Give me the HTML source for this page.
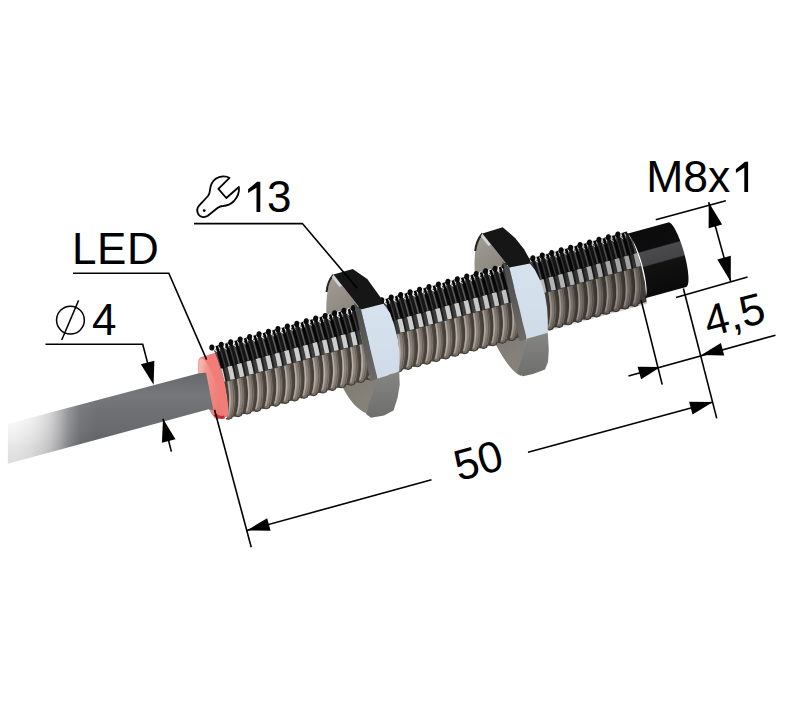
<!DOCTYPE html>
<html><head><meta charset="utf-8"><title>Sensor</title>
<style>html,body{margin:0;padding:0;background:#fff;width:800px;height:710px;overflow:hidden;font-family:"Liberation Sans",sans-serif;}svg{display:block;}</style>
</head><body>
<svg width="800" height="710" viewBox="0 0 800 710" font-family="Liberation Sans, sans-serif"><defs>
<linearGradient id="cableG" gradientUnits="userSpaceOnUse" x1="0" y1="0" x2="205" y2="0">
 <stop offset="0" stop-color="#fcfcfc"/>
 <stop offset="0.08" stop-color="#fafafa"/>
 <stop offset="0.14" stop-color="#f2f2f2"/>
 <stop offset="0.2" stop-color="#e4e4e4"/>
 <stop offset="0.245" stop-color="#d2d2d3"/>
 <stop offset="0.29" stop-color="#b4b4b6"/>
 <stop offset="0.335" stop-color="#8e8f92"/>
 <stop offset="0.39" stop-color="#727377"/>
 <stop offset="0.47" stop-color="#67696d"/>
 <stop offset="1" stop-color="#66686c"/>
</linearGradient>
<linearGradient id="cableV" x1="0" y1="0" x2="0" y2="1">
 <stop offset="0" stop-color="#fff" stop-opacity="0"/>
 <stop offset="0.25" stop-color="#fff" stop-opacity="0.10"/>
 <stop offset="0.45" stop-color="#fff" stop-opacity="0.04"/>
 <stop offset="0.8" stop-color="#000" stop-opacity="0.08"/>
 <stop offset="1" stop-color="#000" stop-opacity="0.12"/>
</linearGradient>
<linearGradient id="faceG" x1="0" y1="0" x2="0.5" y2="1">
 <stop offset="0" stop-color="#f4c4ba"/>
 <stop offset="0.28" stop-color="#f3b0a6"/>
 <stop offset="0.42" stop-color="#f3948c"/>
 <stop offset="1" stop-color="#ee7a74"/>
</linearGradient>
<linearGradient id="frontG" x1="0" y1="0" x2="0" y2="1">
 <stop offset="0" stop-color="#d6e2ee"/>
 <stop offset="1" stop-color="#cfdbe7"/>
</linearGradient>
<linearGradient id="washG" x1="0" y1="0" x2="0.25" y2="1">
 <stop offset="0" stop-color="#a39f97"/>
 <stop offset="0.3" stop-color="#8e8a82"/>
 <stop offset="0.65" stop-color="#7c7871"/>
 <stop offset="1" stop-color="#858179"/>
</linearGradient>
<linearGradient id="boreG" x1="0" y1="0" x2="0" y2="1">
 <stop offset="0" stop-color="#4a4a4a"/>
 <stop offset="0.5" stop-color="#5c5b58"/>
 <stop offset="1" stop-color="#6c6b68"/>
</linearGradient>
<linearGradient id="botG" x1="0" y1="0" x2="0" y2="1">
 <stop offset="0" stop-color="#858583"/>
 <stop offset="1" stop-color="#6e6e6c"/>
</linearGradient>
<linearGradient id="thBase" gradientUnits="userSpaceOnUse" x1="0" y1="-37.3" x2="0" y2="37.3"><stop offset="0" stop-color="#1a1a1a"/><stop offset="0.1" stop-color="#161616"/><stop offset="0.33" stop-color="#141414"/><stop offset="0.34" stop-color="#3a3a3a"/><stop offset="0.5" stop-color="#404040"/><stop offset="0.53" stop-color="#4e4842"/><stop offset="0.8" stop-color="#57514a"/><stop offset="1" stop-color="#4e4842"/></linearGradient>
<linearGradient id="thBox" gradientUnits="userSpaceOnUse" x1="0" y1="-37.3" x2="0" y2="37.3"><stop offset="0" stop-color="#fff" stop-opacity="0"/><stop offset="0.34" stop-color="#fff" stop-opacity="0"/><stop offset="0.35" stop-color="#dedede" stop-opacity="1"/><stop offset="0.51" stop-color="#d4d4d4" stop-opacity="1"/><stop offset="0.51" stop-color="#fff" stop-opacity="0"/><stop offset="1" stop-color="#fff" stop-opacity="0"/></linearGradient>
<linearGradient id="thSheen" gradientUnits="userSpaceOnUse" x1="0" y1="-37.3" x2="0" y2="37.3"><stop offset="0" stop-color="#444" stop-opacity="0"/><stop offset="0.12" stop-color="#444" stop-opacity="0"/><stop offset="0.16" stop-color="#3a3a3a" stop-opacity="1"/><stop offset="0.33" stop-color="#303030" stop-opacity="1"/><stop offset="0.34" stop-color="#444" stop-opacity="0"/><stop offset="1" stop-color="#444" stop-opacity="0"/></linearGradient>
<linearGradient id="thLite" gradientUnits="userSpaceOnUse" x1="0" y1="-37.3" x2="0" y2="37.3"><stop offset="0" stop-color="#aaa" stop-opacity="0"/><stop offset="0.52" stop-color="#aaa" stop-opacity="0"/><stop offset="0.53" stop-color="#b2aaa0" stop-opacity="1"/><stop offset="0.8" stop-color="#bcb4aa" stop-opacity="1"/><stop offset="1" stop-color="#a69e94" stop-opacity="1"/></linearGradient>
<linearGradient id="thTube" gradientUnits="userSpaceOnUse" x1="0" y1="-37.3" x2="0" y2="37.3"><stop offset="0" stop-color="#888" stop-opacity="0"/><stop offset="0.52" stop-color="#888" stop-opacity="0"/><stop offset="0.53" stop-color="#827a71" stop-opacity="1"/><stop offset="0.8" stop-color="#8e867c" stop-opacity="1"/><stop offset="1" stop-color="#7e766d" stop-opacity="1"/></linearGradient>
<linearGradient id="thDark" gradientUnits="userSpaceOnUse" x1="0" y1="-37.3" x2="0" y2="37.3"><stop offset="0" stop-color="#000" stop-opacity="1"/><stop offset="0.34" stop-color="#0a0a0a" stop-opacity="1"/><stop offset="0.35" stop-color="#1c1c1c" stop-opacity="1"/><stop offset="0.51" stop-color="#1c1c1c" stop-opacity="1"/><stop offset="0.53" stop-color="#45403a" stop-opacity="1"/><stop offset="1" stop-color="#48423c" stop-opacity="1"/></linearGradient>
<linearGradient id="thShade" gradientUnits="userSpaceOnUse" x1="0" y1="0" x2="432" y2="0"><stop offset="0" stop-color="#000" stop-opacity="0"/><stop offset="0.55" stop-color="#000" stop-opacity="0"/><stop offset="0.8" stop-color="#000" stop-opacity="0.12"/><stop offset="1" stop-color="#000" stop-opacity="0.22"/></linearGradient><linearGradient id="capG" gradientUnits="userSpaceOnUse" x1="0" y1="-34" x2="0" y2="34"><stop offset="0" stop-color="#0b0b0b"/><stop offset="0.31" stop-color="#0d0d0d"/><stop offset="0.33" stop-color="#4a4a4c"/><stop offset="0.53" stop-color="#444446"/><stop offset="0.55" stop-color="#121212"/><stop offset="1" stop-color="#0a0a0a"/></linearGradient>
<clipPath id="thClip"><polygon points="-5,-42.3 438,-42.3 436,-18.65 437,0 436,18.65 432,39.3 -4.5,39.3 -4.5,37.3 -2.95,36.58 -1.45,34.46 -0.05,31.01 1.22,26.38 2.31,20.72 3.19,14.27 3.84,7.28 4.25,-0 4.41,-7.28 4.32,-14.27 4,-20.72 3.47,-26.38 2.77,-31.01 1.92,-34.46 0.99,-36.58 0,-37.3"/></clipPath></defs><rect width="800" height="710" fill="#fff"/>
<g transform="translate(220,381.8) rotate(-15.54)"><path d="M-12,-28.9 L9,-29.5 L9,35.5 L-12,35.5 A7.5,31.9 0 0 1 -12,-28.9 Z" fill="#f27c78"/><ellipse cx="-12" cy="3.6" rx="7.2" ry="31.4" fill="url(#faceG)"/><path d="M-14,30 Q-10,35.5 -5,35" stroke="#c42a38" stroke-width="3" fill="none"/></g>
<polygon points="7.9,423.7 198.9,373.3 206.05,372.7 213.34,410.12 208.7,409.3 7.9,463.8" fill="url(#cableG)"/><polygon points="7.9,423.7 198.9,373.3 206.05,372.7 213.34,410.12 208.7,409.3 7.9,463.8" fill="url(#cableV)"/>
<path d="M333.5,274.6 C327,282 326,300 326.5,320 C327,345 335,380 352,402 C360,412 370,416 376,415 L378.7,378.7 L361,309.6 Z" fill="url(#washG)"/>
<path d="M482.4,233.5 C476,242 474.5,252 474.5,265 C474.5,290 481,320 496,345 C504,360 512,372 521,376 L526.7,338.7 L509.3,267.5 Z" fill="url(#washG)"/>
<path d="M333.5,274.6 C329.5,279 327.3,284 326.6,292" fill="none" stroke="#222" stroke-width="2"/>
<path d="M482.4,233.5 C478.5,238 476,243 475.2,251" fill="none" stroke="#222" stroke-width="2"/>
<g transform="translate(220,381.8) rotate(-15.54)">
<polygon points="0,-35.8 432,-35.8 436,-18.65 437,0 436,18.65 432,39.3 432,37.3 -4.5,37.3 -2.95,36.58 -1.45,34.46 -0.05,31.01 1.22,26.38 2.31,20.72 3.19,14.27 3.84,7.28 4.25,-0 4.41,-7.28 4.32,-14.27 4,-20.72 3.47,-26.38 2.77,-31.01 1.92,-34.46 0.99,-36.58 0,-37.3" fill="url(#thBase)"/>
<g clip-path="url(#thClip)">
<g fill="#f0f0f0"><ellipse cx="5.9" cy="-32.7" rx="3.1" ry="3.6" transform="rotate(-20 5.9 -32.7)"/><ellipse cx="15.7" cy="-32.7" rx="3.1" ry="3.6" transform="rotate(-20 15.7 -32.7)"/><ellipse cx="25.5" cy="-32.7" rx="3.1" ry="3.6" transform="rotate(-20 25.5 -32.7)"/><ellipse cx="35.3" cy="-32.7" rx="3.1" ry="3.6" transform="rotate(-20 35.3 -32.7)"/><ellipse cx="45.1" cy="-32.7" rx="3.1" ry="3.6" transform="rotate(-20 45.1 -32.7)"/><ellipse cx="54.9" cy="-32.7" rx="3.1" ry="3.6" transform="rotate(-20 54.9 -32.7)"/><ellipse cx="64.7" cy="-32.7" rx="3.1" ry="3.6" transform="rotate(-20 64.7 -32.7)"/><ellipse cx="74.5" cy="-32.7" rx="3.1" ry="3.6" transform="rotate(-20 74.5 -32.7)"/><ellipse cx="84.3" cy="-32.7" rx="3.1" ry="3.6" transform="rotate(-20 84.3 -32.7)"/><ellipse cx="94.1" cy="-32.7" rx="3.1" ry="3.6" transform="rotate(-20 94.1 -32.7)"/><ellipse cx="103.9" cy="-32.7" rx="3.1" ry="3.6" transform="rotate(-20 103.9 -32.7)"/><ellipse cx="113.7" cy="-32.7" rx="3.1" ry="3.6" transform="rotate(-20 113.7 -32.7)"/><ellipse cx="123.5" cy="-32.7" rx="3.1" ry="3.6" transform="rotate(-20 123.5 -32.7)"/><ellipse cx="133.3" cy="-32.7" rx="3.1" ry="3.6" transform="rotate(-20 133.3 -32.7)"/><ellipse cx="143.1" cy="-32.7" rx="3.1" ry="3.6" transform="rotate(-20 143.1 -32.7)"/><ellipse cx="152.9" cy="-32.7" rx="3.1" ry="3.6" transform="rotate(-20 152.9 -32.7)"/><ellipse cx="162.7" cy="-32.7" rx="3.1" ry="3.6" transform="rotate(-20 162.7 -32.7)"/><ellipse cx="172.5" cy="-32.7" rx="3.1" ry="3.6" transform="rotate(-20 172.5 -32.7)"/><ellipse cx="182.3" cy="-32.7" rx="3.1" ry="3.6" transform="rotate(-20 182.3 -32.7)"/><ellipse cx="192.1" cy="-32.7" rx="3.1" ry="3.6" transform="rotate(-20 192.1 -32.7)"/><ellipse cx="201.9" cy="-32.7" rx="3.1" ry="3.6" transform="rotate(-20 201.9 -32.7)"/><ellipse cx="211.7" cy="-32.7" rx="3.1" ry="3.6" transform="rotate(-20 211.7 -32.7)"/><ellipse cx="221.5" cy="-32.7" rx="3.1" ry="3.6" transform="rotate(-20 221.5 -32.7)"/><ellipse cx="231.3" cy="-32.7" rx="3.1" ry="3.6" transform="rotate(-20 231.3 -32.7)"/><ellipse cx="241.1" cy="-32.7" rx="3.1" ry="3.6" transform="rotate(-20 241.1 -32.7)"/><ellipse cx="250.9" cy="-32.7" rx="3.1" ry="3.6" transform="rotate(-20 250.9 -32.7)"/><ellipse cx="260.7" cy="-32.7" rx="3.1" ry="3.6" transform="rotate(-20 260.7 -32.7)"/><ellipse cx="270.5" cy="-32.7" rx="3.1" ry="3.6" transform="rotate(-20 270.5 -32.7)"/><ellipse cx="280.3" cy="-32.7" rx="3.1" ry="3.6" transform="rotate(-20 280.3 -32.7)"/><ellipse cx="290.1" cy="-32.7" rx="3.1" ry="3.6" transform="rotate(-20 290.1 -32.7)"/><ellipse cx="299.9" cy="-32.7" rx="3.1" ry="3.6" transform="rotate(-20 299.9 -32.7)"/><ellipse cx="309.7" cy="-32.7" rx="3.1" ry="3.6" transform="rotate(-20 309.7 -32.7)"/><ellipse cx="319.5" cy="-32.7" rx="3.1" ry="3.6" transform="rotate(-20 319.5 -32.7)"/><ellipse cx="329.3" cy="-32.7" rx="3.1" ry="3.6" transform="rotate(-20 329.3 -32.7)"/><ellipse cx="339.1" cy="-32.7" rx="3.1" ry="3.6" transform="rotate(-20 339.1 -32.7)"/><ellipse cx="348.9" cy="-32.7" rx="3.1" ry="3.6" transform="rotate(-20 348.9 -32.7)"/><ellipse cx="358.7" cy="-32.7" rx="3.1" ry="3.6" transform="rotate(-20 358.7 -32.7)"/><ellipse cx="368.5" cy="-32.7" rx="3.1" ry="3.6" transform="rotate(-20 368.5 -32.7)"/><ellipse cx="378.3" cy="-32.7" rx="3.1" ry="3.6" transform="rotate(-20 378.3 -32.7)"/><ellipse cx="388.1" cy="-32.7" rx="3.1" ry="3.6" transform="rotate(-20 388.1 -32.7)"/><ellipse cx="397.9" cy="-32.7" rx="3.1" ry="3.6" transform="rotate(-20 397.9 -32.7)"/><ellipse cx="407.7" cy="-32.7" rx="3.1" ry="3.6" transform="rotate(-20 407.7 -32.7)"/><ellipse cx="417.5" cy="-32.7" rx="3.1" ry="3.6" transform="rotate(-20 417.5 -32.7)"/><ellipse cx="427.3" cy="-32.7" rx="3.1" ry="3.6" transform="rotate(-20 427.3 -32.7)"/></g>
<path d="M6.45,-35.37 L6.59,-27.83 L6.64,-20.57 L6.57,-13.59 L6.35,-6.9 L5.95,-0.49 L5.34,5.62 L4.49,11.46 L3.37,17 L1.95,22.25 L0.2,27.21 L-1.91,31.88 L-4.41,36.25 L-5.1,37.3 M16.25,-35.37 L16.39,-27.83 L16.44,-20.57 L16.37,-13.59 L16.15,-6.9 L15.75,-0.49 L15.14,5.62 L14.29,11.46 L13.17,17 L11.75,22.25 L10,27.21 L7.89,31.88 L5.39,36.25 L4.7,37.3 M26.05,-35.37 L26.19,-27.83 L26.24,-20.57 L26.17,-13.59 L25.95,-6.9 L25.55,-0.49 L24.94,5.62 L24.09,11.46 L22.97,17 L21.55,22.25 L19.8,27.21 L17.69,31.88 L15.19,36.25 L14.5,37.3 M35.85,-35.37 L35.99,-27.83 L36.04,-20.57 L35.97,-13.59 L35.75,-6.9 L35.35,-0.49 L34.74,5.62 L33.89,11.46 L32.77,17 L31.35,22.25 L29.6,27.21 L27.49,31.88 L24.99,36.25 L24.3,37.3 M45.65,-35.37 L45.79,-27.83 L45.84,-20.57 L45.77,-13.59 L45.55,-6.9 L45.15,-0.49 L44.54,5.62 L43.69,11.46 L42.57,17 L41.15,22.25 L39.4,27.21 L37.29,31.88 L34.79,36.25 L34.1,37.3 M55.45,-35.37 L55.59,-27.83 L55.64,-20.57 L55.57,-13.59 L55.35,-6.9 L54.95,-0.49 L54.34,5.62 L53.49,11.46 L52.37,17 L50.95,22.25 L49.2,27.21 L47.09,31.88 L44.59,36.25 L43.9,37.3 M65.25,-35.37 L65.39,-27.83 L65.44,-20.57 L65.37,-13.59 L65.15,-6.9 L64.75,-0.49 L64.14,5.62 L63.29,11.46 L62.17,17 L60.75,22.25 L59,27.21 L56.89,31.88 L54.39,36.25 L53.7,37.3 M75.05,-35.37 L75.19,-27.83 L75.24,-20.57 L75.17,-13.59 L74.95,-6.9 L74.55,-0.49 L73.94,5.62 L73.09,11.46 L71.97,17 L70.55,22.25 L68.8,27.21 L66.69,31.88 L64.19,36.25 L63.5,37.3 M84.85,-35.37 L84.99,-27.83 L85.04,-20.57 L84.97,-13.59 L84.75,-6.9 L84.35,-0.49 L83.74,5.62 L82.89,11.46 L81.77,17 L80.35,22.25 L78.6,27.21 L76.49,31.88 L73.99,36.25 L73.3,37.3 M94.65,-35.37 L94.79,-27.83 L94.84,-20.57 L94.77,-13.59 L94.55,-6.9 L94.15,-0.49 L93.54,5.62 L92.69,11.46 L91.57,17 L90.15,22.25 L88.4,27.21 L86.29,31.88 L83.79,36.25 L83.1,37.3 M104.45,-35.37 L104.59,-27.83 L104.64,-20.57 L104.57,-13.59 L104.35,-6.9 L103.95,-0.49 L103.34,5.62 L102.49,11.46 L101.37,17 L99.95,22.25 L98.2,27.21 L96.09,31.88 L93.59,36.25 L92.9,37.3 M114.25,-35.37 L114.39,-27.83 L114.44,-20.57 L114.37,-13.59 L114.15,-6.9 L113.75,-0.49 L113.14,5.62 L112.29,11.46 L111.17,17 L109.75,22.25 L108,27.21 L105.89,31.88 L103.39,36.25 L102.7,37.3 M124.05,-35.37 L124.19,-27.83 L124.24,-20.57 L124.17,-13.59 L123.95,-6.9 L123.55,-0.49 L122.94,5.62 L122.09,11.46 L120.97,17 L119.55,22.25 L117.8,27.21 L115.69,31.88 L113.19,36.25 L112.5,37.3 M133.85,-35.37 L133.99,-27.83 L134.04,-20.57 L133.97,-13.59 L133.75,-6.9 L133.35,-0.49 L132.74,5.62 L131.89,11.46 L130.77,17 L129.35,22.25 L127.6,27.21 L125.49,31.88 L122.99,36.25 L122.3,37.3 M143.65,-35.37 L143.79,-27.83 L143.84,-20.57 L143.77,-13.59 L143.55,-6.9 L143.15,-0.49 L142.54,5.62 L141.69,11.46 L140.57,17 L139.15,22.25 L137.4,27.21 L135.29,31.88 L132.79,36.25 L132.1,37.3 M153.45,-35.37 L153.59,-27.83 L153.64,-20.57 L153.57,-13.59 L153.35,-6.9 L152.95,-0.49 L152.34,5.62 L151.49,11.46 L150.37,17 L148.95,22.25 L147.2,27.21 L145.09,31.88 L142.59,36.25 L141.9,37.3 M163.25,-35.37 L163.39,-27.83 L163.44,-20.57 L163.37,-13.59 L163.15,-6.9 L162.75,-0.49 L162.14,5.62 L161.29,11.46 L160.17,17 L158.75,22.25 L157,27.21 L154.89,31.88 L152.39,36.25 L151.7,37.3 M173.05,-35.37 L173.19,-27.83 L173.24,-20.57 L173.17,-13.59 L172.95,-6.9 L172.55,-0.49 L171.94,5.62 L171.09,11.46 L169.97,17 L168.55,22.25 L166.8,27.21 L164.69,31.88 L162.19,36.25 L161.5,37.3 M182.85,-35.37 L182.99,-27.83 L183.04,-20.57 L182.97,-13.59 L182.75,-6.9 L182.35,-0.49 L181.74,5.62 L180.89,11.46 L179.77,17 L178.35,22.25 L176.6,27.21 L174.49,31.88 L171.99,36.25 L171.3,37.3 M192.65,-35.37 L192.79,-27.83 L192.84,-20.57 L192.77,-13.59 L192.55,-6.9 L192.15,-0.49 L191.54,5.62 L190.69,11.46 L189.57,17 L188.15,22.25 L186.4,27.21 L184.29,31.88 L181.79,36.25 L181.1,37.3 M202.45,-35.37 L202.59,-27.83 L202.64,-20.57 L202.57,-13.59 L202.35,-6.9 L201.95,-0.49 L201.34,5.62 L200.49,11.46 L199.37,17 L197.95,22.25 L196.2,27.21 L194.09,31.88 L191.59,36.25 L190.9,37.3 M212.25,-35.37 L212.39,-27.83 L212.44,-20.57 L212.37,-13.59 L212.15,-6.9 L211.75,-0.49 L211.14,5.62 L210.29,11.46 L209.17,17 L207.75,22.25 L206,27.21 L203.89,31.88 L201.39,36.25 L200.7,37.3 M222.05,-35.37 L222.19,-27.83 L222.24,-20.57 L222.17,-13.59 L221.95,-6.9 L221.55,-0.49 L220.94,5.62 L220.09,11.46 L218.97,17 L217.55,22.25 L215.8,27.21 L213.69,31.88 L211.19,36.25 L210.5,37.3 M231.85,-35.37 L231.99,-27.83 L232.04,-20.57 L231.97,-13.59 L231.75,-6.9 L231.35,-0.49 L230.74,5.62 L229.89,11.46 L228.77,17 L227.35,22.25 L225.6,27.21 L223.49,31.88 L220.99,36.25 L220.3,37.3 M241.65,-35.37 L241.79,-27.83 L241.84,-20.57 L241.77,-13.59 L241.55,-6.9 L241.15,-0.49 L240.54,5.62 L239.69,11.46 L238.57,17 L237.15,22.25 L235.4,27.21 L233.29,31.88 L230.79,36.25 L230.1,37.3 M251.45,-35.37 L251.59,-27.83 L251.64,-20.57 L251.57,-13.59 L251.35,-6.9 L250.95,-0.49 L250.34,5.62 L249.49,11.46 L248.37,17 L246.95,22.25 L245.2,27.21 L243.09,31.88 L240.59,36.25 L239.9,37.3 M261.25,-35.37 L261.39,-27.83 L261.44,-20.57 L261.37,-13.59 L261.15,-6.9 L260.75,-0.49 L260.14,5.62 L259.29,11.46 L258.17,17 L256.75,22.25 L255,27.21 L252.89,31.88 L250.39,36.25 L249.7,37.3 M271.05,-35.37 L271.19,-27.83 L271.24,-20.57 L271.17,-13.59 L270.95,-6.9 L270.55,-0.49 L269.94,5.62 L269.09,11.46 L267.97,17 L266.55,22.25 L264.8,27.21 L262.69,31.88 L260.19,36.25 L259.5,37.3 M280.85,-35.37 L280.99,-27.83 L281.04,-20.57 L280.97,-13.59 L280.75,-6.9 L280.35,-0.49 L279.74,5.62 L278.89,11.46 L277.77,17 L276.35,22.25 L274.6,27.21 L272.49,31.88 L269.99,36.25 L269.3,37.3 M290.65,-35.37 L290.79,-27.83 L290.84,-20.57 L290.77,-13.59 L290.55,-6.9 L290.15,-0.49 L289.54,5.62 L288.69,11.46 L287.57,17 L286.15,22.25 L284.4,27.21 L282.29,31.88 L279.79,36.25 L279.1,37.3 M300.45,-35.37 L300.59,-27.83 L300.64,-20.57 L300.57,-13.59 L300.35,-6.9 L299.95,-0.49 L299.34,5.62 L298.49,11.46 L297.37,17 L295.95,22.25 L294.2,27.21 L292.09,31.88 L289.59,36.25 L288.9,37.3 M310.25,-35.37 L310.39,-27.83 L310.44,-20.57 L310.37,-13.59 L310.15,-6.9 L309.75,-0.49 L309.14,5.62 L308.29,11.46 L307.17,17 L305.75,22.25 L304,27.21 L301.89,31.88 L299.39,36.25 L298.7,37.3 M320.05,-35.37 L320.19,-27.83 L320.24,-20.57 L320.17,-13.59 L319.95,-6.9 L319.55,-0.49 L318.94,5.62 L318.09,11.46 L316.97,17 L315.55,22.25 L313.8,27.21 L311.69,31.88 L309.19,36.25 L308.5,37.3 M329.85,-35.37 L329.99,-27.83 L330.04,-20.57 L329.97,-13.59 L329.75,-6.9 L329.35,-0.49 L328.74,5.62 L327.89,11.46 L326.77,17 L325.35,22.25 L323.6,27.21 L321.49,31.88 L318.99,36.25 L318.3,37.3 M339.65,-35.37 L339.79,-27.83 L339.84,-20.57 L339.77,-13.59 L339.55,-6.9 L339.15,-0.49 L338.54,5.62 L337.69,11.46 L336.57,17 L335.15,22.25 L333.4,27.21 L331.29,31.88 L328.79,36.25 L328.1,37.3 M349.45,-35.37 L349.59,-27.83 L349.64,-20.57 L349.57,-13.59 L349.35,-6.9 L348.95,-0.49 L348.34,5.62 L347.49,11.46 L346.37,17 L344.95,22.25 L343.2,27.21 L341.09,31.88 L338.59,36.25 L337.9,37.3 M359.25,-35.37 L359.39,-27.83 L359.44,-20.57 L359.37,-13.59 L359.15,-6.9 L358.75,-0.49 L358.14,5.62 L357.29,11.46 L356.17,17 L354.75,22.25 L353,27.21 L350.89,31.88 L348.39,36.25 L347.7,37.3 M369.05,-35.37 L369.19,-27.83 L369.24,-20.57 L369.17,-13.59 L368.95,-6.9 L368.55,-0.49 L367.94,5.62 L367.09,11.46 L365.97,17 L364.55,22.25 L362.8,27.21 L360.69,31.88 L358.19,36.25 L357.5,37.3 M378.85,-35.37 L378.99,-27.83 L379.04,-20.57 L378.97,-13.59 L378.75,-6.9 L378.35,-0.49 L377.74,5.62 L376.89,11.46 L375.77,17 L374.35,22.25 L372.6,27.21 L370.49,31.88 L367.99,36.25 L367.3,37.3 M388.65,-35.37 L388.79,-27.83 L388.84,-20.57 L388.77,-13.59 L388.55,-6.9 L388.15,-0.49 L387.54,5.62 L386.69,11.46 L385.57,17 L384.15,22.25 L382.4,27.21 L380.29,31.88 L377.79,36.25 L377.1,37.3 M398.45,-35.37 L398.59,-27.83 L398.64,-20.57 L398.57,-13.59 L398.35,-6.9 L397.95,-0.49 L397.34,5.62 L396.49,11.46 L395.37,17 L393.95,22.25 L392.2,27.21 L390.09,31.88 L387.59,36.25 L386.9,37.3 M408.25,-35.37 L408.39,-27.83 L408.44,-20.57 L408.37,-13.59 L408.15,-6.9 L407.75,-0.49 L407.14,5.62 L406.29,11.46 L405.17,17 L403.75,22.25 L402,27.21 L399.89,31.88 L397.39,36.25 L396.7,37.3 M418.05,-35.37 L418.19,-27.83 L418.24,-20.57 L418.17,-13.59 L417.95,-6.9 L417.55,-0.49 L416.94,5.62 L416.09,11.46 L414.97,17 L413.55,22.25 L411.8,27.21 L409.69,31.88 L407.19,36.25 L406.5,37.3 M427.85,-35.37 L427.99,-27.83 L428.04,-20.57 L427.97,-13.59 L427.75,-6.9 L427.35,-0.49 L426.74,5.62 L425.89,11.46 L424.77,17 L423.35,22.25 L421.6,27.21 L419.49,31.88 L416.99,36.25 L416.3,37.3" fill="none" stroke="url(#thDark)" stroke-width="2.6"/>
<path d="M3.74,-30.62 L3.77,-28.76 L3.8,-26.91 L3.82,-25.07 L3.83,-23.26 L3.84,-21.46 L3.84,-19.68 L3.83,-17.92 L3.81,-16.18 L3.79,-14.45 L3.75,-12.74 M13.54,-30.62 L13.57,-28.76 L13.6,-26.91 L13.62,-25.07 L13.63,-23.26 L13.64,-21.46 L13.64,-19.68 L13.63,-17.92 L13.61,-16.18 L13.59,-14.45 L13.55,-12.74 M23.34,-30.62 L23.37,-28.76 L23.4,-26.91 L23.42,-25.07 L23.43,-23.26 L23.44,-21.46 L23.44,-19.68 L23.43,-17.92 L23.41,-16.18 L23.39,-14.45 L23.35,-12.74 M33.14,-30.62 L33.17,-28.76 L33.2,-26.91 L33.22,-25.07 L33.23,-23.26 L33.24,-21.46 L33.24,-19.68 L33.23,-17.92 L33.21,-16.18 L33.19,-14.45 L33.15,-12.74 M42.94,-30.62 L42.97,-28.76 L43,-26.91 L43.02,-25.07 L43.03,-23.26 L43.04,-21.46 L43.04,-19.68 L43.03,-17.92 L43.01,-16.18 L42.99,-14.45 L42.95,-12.74 M52.74,-30.62 L52.77,-28.76 L52.8,-26.91 L52.82,-25.07 L52.83,-23.26 L52.84,-21.46 L52.84,-19.68 L52.83,-17.92 L52.81,-16.18 L52.79,-14.45 L52.75,-12.74 M62.54,-30.62 L62.57,-28.76 L62.6,-26.91 L62.62,-25.07 L62.63,-23.26 L62.64,-21.46 L62.64,-19.68 L62.63,-17.92 L62.61,-16.18 L62.59,-14.45 L62.55,-12.74 M72.34,-30.62 L72.37,-28.76 L72.4,-26.91 L72.42,-25.07 L72.43,-23.26 L72.44,-21.46 L72.44,-19.68 L72.43,-17.92 L72.41,-16.18 L72.39,-14.45 L72.35,-12.74 M82.14,-30.62 L82.17,-28.76 L82.2,-26.91 L82.22,-25.07 L82.23,-23.26 L82.24,-21.46 L82.24,-19.68 L82.23,-17.92 L82.21,-16.18 L82.19,-14.45 L82.15,-12.74 M91.94,-30.62 L91.97,-28.76 L92,-26.91 L92.02,-25.07 L92.03,-23.26 L92.04,-21.46 L92.04,-19.68 L92.03,-17.92 L92.01,-16.18 L91.99,-14.45 L91.95,-12.74 M101.74,-30.62 L101.77,-28.76 L101.8,-26.91 L101.82,-25.07 L101.83,-23.26 L101.84,-21.46 L101.84,-19.68 L101.83,-17.92 L101.81,-16.18 L101.79,-14.45 L101.75,-12.74 M111.54,-30.62 L111.57,-28.76 L111.6,-26.91 L111.62,-25.07 L111.63,-23.26 L111.64,-21.46 L111.64,-19.68 L111.63,-17.92 L111.61,-16.18 L111.59,-14.45 L111.55,-12.74 M121.34,-30.62 L121.37,-28.76 L121.4,-26.91 L121.42,-25.07 L121.43,-23.26 L121.44,-21.46 L121.44,-19.68 L121.43,-17.92 L121.41,-16.18 L121.39,-14.45 L121.35,-12.74 M131.14,-30.62 L131.17,-28.76 L131.2,-26.91 L131.22,-25.07 L131.23,-23.26 L131.24,-21.46 L131.24,-19.68 L131.23,-17.92 L131.21,-16.18 L131.19,-14.45 L131.15,-12.74 M140.94,-30.62 L140.97,-28.76 L141,-26.91 L141.02,-25.07 L141.03,-23.26 L141.04,-21.46 L141.04,-19.68 L141.03,-17.92 L141.01,-16.18 L140.99,-14.45 L140.95,-12.74 M150.74,-30.62 L150.77,-28.76 L150.8,-26.91 L150.82,-25.07 L150.83,-23.26 L150.84,-21.46 L150.84,-19.68 L150.83,-17.92 L150.81,-16.18 L150.79,-14.45 L150.75,-12.74 M160.54,-30.62 L160.57,-28.76 L160.6,-26.91 L160.62,-25.07 L160.63,-23.26 L160.64,-21.46 L160.64,-19.68 L160.63,-17.92 L160.61,-16.18 L160.59,-14.45 L160.55,-12.74 M170.34,-30.62 L170.37,-28.76 L170.4,-26.91 L170.42,-25.07 L170.43,-23.26 L170.44,-21.46 L170.44,-19.68 L170.43,-17.92 L170.41,-16.18 L170.39,-14.45 L170.35,-12.74 M180.14,-30.62 L180.17,-28.76 L180.2,-26.91 L180.22,-25.07 L180.23,-23.26 L180.24,-21.46 L180.24,-19.68 L180.23,-17.92 L180.21,-16.18 L180.19,-14.45 L180.15,-12.74 M189.94,-30.62 L189.97,-28.76 L190,-26.91 L190.02,-25.07 L190.03,-23.26 L190.04,-21.46 L190.04,-19.68 L190.03,-17.92 L190.01,-16.18 L189.99,-14.45 L189.95,-12.74 M199.74,-30.62 L199.77,-28.76 L199.8,-26.91 L199.82,-25.07 L199.83,-23.26 L199.84,-21.46 L199.84,-19.68 L199.83,-17.92 L199.81,-16.18 L199.79,-14.45 L199.75,-12.74 M209.54,-30.62 L209.57,-28.76 L209.6,-26.91 L209.62,-25.07 L209.63,-23.26 L209.64,-21.46 L209.64,-19.68 L209.63,-17.92 L209.61,-16.18 L209.59,-14.45 L209.55,-12.74 M219.34,-30.62 L219.37,-28.76 L219.4,-26.91 L219.42,-25.07 L219.43,-23.26 L219.44,-21.46 L219.44,-19.68 L219.43,-17.92 L219.41,-16.18 L219.39,-14.45 L219.35,-12.74 M229.14,-30.62 L229.17,-28.76 L229.2,-26.91 L229.22,-25.07 L229.23,-23.26 L229.24,-21.46 L229.24,-19.68 L229.23,-17.92 L229.21,-16.18 L229.19,-14.45 L229.15,-12.74 M238.94,-30.62 L238.97,-28.76 L239,-26.91 L239.02,-25.07 L239.03,-23.26 L239.04,-21.46 L239.04,-19.68 L239.03,-17.92 L239.01,-16.18 L238.99,-14.45 L238.95,-12.74 M248.74,-30.62 L248.77,-28.76 L248.8,-26.91 L248.82,-25.07 L248.83,-23.26 L248.84,-21.46 L248.84,-19.68 L248.83,-17.92 L248.81,-16.18 L248.79,-14.45 L248.75,-12.74 M258.54,-30.62 L258.57,-28.76 L258.6,-26.91 L258.62,-25.07 L258.63,-23.26 L258.64,-21.46 L258.64,-19.68 L258.63,-17.92 L258.61,-16.18 L258.59,-14.45 L258.55,-12.74 M268.34,-30.62 L268.37,-28.76 L268.4,-26.91 L268.42,-25.07 L268.43,-23.26 L268.44,-21.46 L268.44,-19.68 L268.43,-17.92 L268.41,-16.18 L268.39,-14.45 L268.35,-12.74 M278.14,-30.62 L278.17,-28.76 L278.2,-26.91 L278.22,-25.07 L278.23,-23.26 L278.24,-21.46 L278.24,-19.68 L278.23,-17.92 L278.21,-16.18 L278.19,-14.45 L278.15,-12.74 M287.94,-30.62 L287.97,-28.76 L288,-26.91 L288.02,-25.07 L288.03,-23.26 L288.04,-21.46 L288.04,-19.68 L288.03,-17.92 L288.01,-16.18 L287.99,-14.45 L287.95,-12.74 M297.74,-30.62 L297.77,-28.76 L297.8,-26.91 L297.82,-25.07 L297.83,-23.26 L297.84,-21.46 L297.84,-19.68 L297.83,-17.92 L297.81,-16.18 L297.79,-14.45 L297.75,-12.74 M307.54,-30.62 L307.57,-28.76 L307.6,-26.91 L307.62,-25.07 L307.63,-23.26 L307.64,-21.46 L307.64,-19.68 L307.63,-17.92 L307.61,-16.18 L307.59,-14.45 L307.55,-12.74 M317.34,-30.62 L317.37,-28.76 L317.4,-26.91 L317.42,-25.07 L317.43,-23.26 L317.44,-21.46 L317.44,-19.68 L317.43,-17.92 L317.41,-16.18 L317.39,-14.45 L317.35,-12.74 M327.14,-30.62 L327.17,-28.76 L327.2,-26.91 L327.22,-25.07 L327.23,-23.26 L327.24,-21.46 L327.24,-19.68 L327.23,-17.92 L327.21,-16.18 L327.19,-14.45 L327.15,-12.74 M336.94,-30.62 L336.97,-28.76 L337,-26.91 L337.02,-25.07 L337.03,-23.26 L337.04,-21.46 L337.04,-19.68 L337.03,-17.92 L337.01,-16.18 L336.99,-14.45 L336.95,-12.74 M346.74,-30.62 L346.77,-28.76 L346.8,-26.91 L346.82,-25.07 L346.83,-23.26 L346.84,-21.46 L346.84,-19.68 L346.83,-17.92 L346.81,-16.18 L346.79,-14.45 L346.75,-12.74 M356.54,-30.62 L356.57,-28.76 L356.6,-26.91 L356.62,-25.07 L356.63,-23.26 L356.64,-21.46 L356.64,-19.68 L356.63,-17.92 L356.61,-16.18 L356.59,-14.45 L356.55,-12.74 M366.34,-30.62 L366.37,-28.76 L366.4,-26.91 L366.42,-25.07 L366.43,-23.26 L366.44,-21.46 L366.44,-19.68 L366.43,-17.92 L366.41,-16.18 L366.39,-14.45 L366.35,-12.74 M376.14,-30.62 L376.17,-28.76 L376.2,-26.91 L376.22,-25.07 L376.23,-23.26 L376.24,-21.46 L376.24,-19.68 L376.23,-17.92 L376.21,-16.18 L376.19,-14.45 L376.15,-12.74 M385.94,-30.62 L385.97,-28.76 L386,-26.91 L386.02,-25.07 L386.03,-23.26 L386.04,-21.46 L386.04,-19.68 L386.03,-17.92 L386.01,-16.18 L385.99,-14.45 L385.95,-12.74 M395.74,-30.62 L395.77,-28.76 L395.8,-26.91 L395.82,-25.07 L395.83,-23.26 L395.84,-21.46 L395.84,-19.68 L395.83,-17.92 L395.81,-16.18 L395.79,-14.45 L395.75,-12.74 M405.54,-30.62 L405.57,-28.76 L405.6,-26.91 L405.62,-25.07 L405.63,-23.26 L405.64,-21.46 L405.64,-19.68 L405.63,-17.92 L405.61,-16.18 L405.59,-14.45 L405.55,-12.74 M415.34,-30.62 L415.37,-28.76 L415.4,-26.91 L415.42,-25.07 L415.43,-23.26 L415.44,-21.46 L415.44,-19.68 L415.43,-17.92 L415.41,-16.18 L415.39,-14.45 L415.35,-12.74 M425.14,-30.62 L425.17,-28.76 L425.2,-26.91 L425.22,-25.07 L425.23,-23.26 L425.24,-21.46 L425.24,-19.68 L425.23,-17.92 L425.21,-16.18 L425.19,-14.45 L425.15,-12.74 M434.94,-30.62 L434.97,-28.76 L435,-26.91 L435.02,-25.07 L435.03,-23.26 L435.04,-21.46 L435.04,-19.68 L435.03,-17.92 L435.01,-16.18 L434.99,-14.45 L434.95,-12.74" fill="none" stroke="#5a5a5a" stroke-width="1.6"/>
<path d="M-0.88,-32.04 L-0.85,-30.16 L-0.82,-28.29 L-0.79,-26.45 L-0.78,-24.62 L-0.77,-22.81 L-0.76,-21.02 L-0.76,-19.24 L-0.77,-17.48 L-0.79,-15.74 L-0.82,-14.02 L-0.85,-12.74 M8.92,-32.04 L8.95,-30.16 L8.98,-28.29 L9.01,-26.45 L9.02,-24.62 L9.03,-22.81 L9.04,-21.02 L9.04,-19.24 L9.03,-17.48 L9.01,-15.74 L8.98,-14.02 L8.95,-12.74 M18.72,-32.04 L18.75,-30.16 L18.78,-28.29 L18.81,-26.45 L18.82,-24.62 L18.83,-22.81 L18.84,-21.02 L18.84,-19.24 L18.83,-17.48 L18.81,-15.74 L18.78,-14.02 L18.75,-12.74 M28.52,-32.04 L28.55,-30.16 L28.58,-28.29 L28.61,-26.45 L28.62,-24.62 L28.63,-22.81 L28.64,-21.02 L28.64,-19.24 L28.63,-17.48 L28.61,-15.74 L28.58,-14.02 L28.55,-12.74 M38.32,-32.04 L38.35,-30.16 L38.38,-28.29 L38.41,-26.45 L38.42,-24.62 L38.43,-22.81 L38.44,-21.02 L38.44,-19.24 L38.43,-17.48 L38.41,-15.74 L38.38,-14.02 L38.35,-12.74 M48.12,-32.04 L48.15,-30.16 L48.18,-28.29 L48.21,-26.45 L48.22,-24.62 L48.23,-22.81 L48.24,-21.02 L48.24,-19.24 L48.23,-17.48 L48.21,-15.74 L48.18,-14.02 L48.15,-12.74 M57.92,-32.04 L57.95,-30.16 L57.98,-28.29 L58.01,-26.45 L58.02,-24.62 L58.03,-22.81 L58.04,-21.02 L58.04,-19.24 L58.03,-17.48 L58.01,-15.74 L57.98,-14.02 L57.95,-12.74 M67.72,-32.04 L67.75,-30.16 L67.78,-28.29 L67.81,-26.45 L67.82,-24.62 L67.83,-22.81 L67.84,-21.02 L67.84,-19.24 L67.83,-17.48 L67.81,-15.74 L67.78,-14.02 L67.75,-12.74 M77.52,-32.04 L77.55,-30.16 L77.58,-28.29 L77.61,-26.45 L77.62,-24.62 L77.63,-22.81 L77.64,-21.02 L77.64,-19.24 L77.63,-17.48 L77.61,-15.74 L77.58,-14.02 L77.55,-12.74 M87.32,-32.04 L87.35,-30.16 L87.38,-28.29 L87.41,-26.45 L87.42,-24.62 L87.43,-22.81 L87.44,-21.02 L87.44,-19.24 L87.43,-17.48 L87.41,-15.74 L87.38,-14.02 L87.35,-12.74 M97.12,-32.04 L97.15,-30.16 L97.18,-28.29 L97.21,-26.45 L97.22,-24.62 L97.23,-22.81 L97.24,-21.02 L97.24,-19.24 L97.23,-17.48 L97.21,-15.74 L97.18,-14.02 L97.15,-12.74 M106.92,-32.04 L106.95,-30.16 L106.98,-28.29 L107.01,-26.45 L107.02,-24.62 L107.03,-22.81 L107.04,-21.02 L107.04,-19.24 L107.03,-17.48 L107.01,-15.74 L106.98,-14.02 L106.95,-12.74 M116.72,-32.04 L116.75,-30.16 L116.78,-28.29 L116.81,-26.45 L116.82,-24.62 L116.83,-22.81 L116.84,-21.02 L116.84,-19.24 L116.83,-17.48 L116.81,-15.74 L116.78,-14.02 L116.75,-12.74 M126.52,-32.04 L126.55,-30.16 L126.58,-28.29 L126.61,-26.45 L126.62,-24.62 L126.63,-22.81 L126.64,-21.02 L126.64,-19.24 L126.63,-17.48 L126.61,-15.74 L126.58,-14.02 L126.55,-12.74 M136.32,-32.04 L136.35,-30.16 L136.38,-28.29 L136.41,-26.45 L136.42,-24.62 L136.43,-22.81 L136.44,-21.02 L136.44,-19.24 L136.43,-17.48 L136.41,-15.74 L136.38,-14.02 L136.35,-12.74 M146.12,-32.04 L146.15,-30.16 L146.18,-28.29 L146.21,-26.45 L146.22,-24.62 L146.23,-22.81 L146.24,-21.02 L146.24,-19.24 L146.23,-17.48 L146.21,-15.74 L146.18,-14.02 L146.15,-12.74 M155.92,-32.04 L155.95,-30.16 L155.98,-28.29 L156.01,-26.45 L156.02,-24.62 L156.03,-22.81 L156.04,-21.02 L156.04,-19.24 L156.03,-17.48 L156.01,-15.74 L155.98,-14.02 L155.95,-12.74 M165.72,-32.04 L165.75,-30.16 L165.78,-28.29 L165.81,-26.45 L165.82,-24.62 L165.83,-22.81 L165.84,-21.02 L165.84,-19.24 L165.83,-17.48 L165.81,-15.74 L165.78,-14.02 L165.75,-12.74 M175.52,-32.04 L175.55,-30.16 L175.58,-28.29 L175.61,-26.45 L175.62,-24.62 L175.63,-22.81 L175.64,-21.02 L175.64,-19.24 L175.63,-17.48 L175.61,-15.74 L175.58,-14.02 L175.55,-12.74 M185.32,-32.04 L185.35,-30.16 L185.38,-28.29 L185.41,-26.45 L185.42,-24.62 L185.43,-22.81 L185.44,-21.02 L185.44,-19.24 L185.43,-17.48 L185.41,-15.74 L185.38,-14.02 L185.35,-12.74 M195.12,-32.04 L195.15,-30.16 L195.18,-28.29 L195.21,-26.45 L195.22,-24.62 L195.23,-22.81 L195.24,-21.02 L195.24,-19.24 L195.23,-17.48 L195.21,-15.74 L195.18,-14.02 L195.15,-12.74 M204.92,-32.04 L204.95,-30.16 L204.98,-28.29 L205.01,-26.45 L205.02,-24.62 L205.03,-22.81 L205.04,-21.02 L205.04,-19.24 L205.03,-17.48 L205.01,-15.74 L204.98,-14.02 L204.95,-12.74 M214.72,-32.04 L214.75,-30.16 L214.78,-28.29 L214.81,-26.45 L214.82,-24.62 L214.83,-22.81 L214.84,-21.02 L214.84,-19.24 L214.83,-17.48 L214.81,-15.74 L214.78,-14.02 L214.75,-12.74 M224.52,-32.04 L224.55,-30.16 L224.58,-28.29 L224.61,-26.45 L224.62,-24.62 L224.63,-22.81 L224.64,-21.02 L224.64,-19.24 L224.63,-17.48 L224.61,-15.74 L224.58,-14.02 L224.55,-12.74 M234.32,-32.04 L234.35,-30.16 L234.38,-28.29 L234.41,-26.45 L234.42,-24.62 L234.43,-22.81 L234.44,-21.02 L234.44,-19.24 L234.43,-17.48 L234.41,-15.74 L234.38,-14.02 L234.35,-12.74 M244.12,-32.04 L244.15,-30.16 L244.18,-28.29 L244.21,-26.45 L244.22,-24.62 L244.23,-22.81 L244.24,-21.02 L244.24,-19.24 L244.23,-17.48 L244.21,-15.74 L244.18,-14.02 L244.15,-12.74 M253.92,-32.04 L253.95,-30.16 L253.98,-28.29 L254.01,-26.45 L254.02,-24.62 L254.03,-22.81 L254.04,-21.02 L254.04,-19.24 L254.03,-17.48 L254.01,-15.74 L253.98,-14.02 L253.95,-12.74 M263.72,-32.04 L263.75,-30.16 L263.78,-28.29 L263.81,-26.45 L263.82,-24.62 L263.83,-22.81 L263.84,-21.02 L263.84,-19.24 L263.83,-17.48 L263.81,-15.74 L263.78,-14.02 L263.75,-12.74 M273.52,-32.04 L273.55,-30.16 L273.58,-28.29 L273.61,-26.45 L273.62,-24.62 L273.63,-22.81 L273.64,-21.02 L273.64,-19.24 L273.63,-17.48 L273.61,-15.74 L273.58,-14.02 L273.55,-12.74 M283.32,-32.04 L283.35,-30.16 L283.38,-28.29 L283.41,-26.45 L283.42,-24.62 L283.43,-22.81 L283.44,-21.02 L283.44,-19.24 L283.43,-17.48 L283.41,-15.74 L283.38,-14.02 L283.35,-12.74 M293.12,-32.04 L293.15,-30.16 L293.18,-28.29 L293.21,-26.45 L293.22,-24.62 L293.23,-22.81 L293.24,-21.02 L293.24,-19.24 L293.23,-17.48 L293.21,-15.74 L293.18,-14.02 L293.15,-12.74 M302.92,-32.04 L302.95,-30.16 L302.98,-28.29 L303.01,-26.45 L303.02,-24.62 L303.03,-22.81 L303.04,-21.02 L303.04,-19.24 L303.03,-17.48 L303.01,-15.74 L302.98,-14.02 L302.95,-12.74 M312.72,-32.04 L312.75,-30.16 L312.78,-28.29 L312.81,-26.45 L312.82,-24.62 L312.83,-22.81 L312.84,-21.02 L312.84,-19.24 L312.83,-17.48 L312.81,-15.74 L312.78,-14.02 L312.75,-12.74 M322.52,-32.04 L322.55,-30.16 L322.58,-28.29 L322.61,-26.45 L322.62,-24.62 L322.63,-22.81 L322.64,-21.02 L322.64,-19.24 L322.63,-17.48 L322.61,-15.74 L322.58,-14.02 L322.55,-12.74 M332.32,-32.04 L332.35,-30.16 L332.38,-28.29 L332.41,-26.45 L332.42,-24.62 L332.43,-22.81 L332.44,-21.02 L332.44,-19.24 L332.43,-17.48 L332.41,-15.74 L332.38,-14.02 L332.35,-12.74 M342.12,-32.04 L342.15,-30.16 L342.18,-28.29 L342.21,-26.45 L342.22,-24.62 L342.23,-22.81 L342.24,-21.02 L342.24,-19.24 L342.23,-17.48 L342.21,-15.74 L342.18,-14.02 L342.15,-12.74 M351.92,-32.04 L351.95,-30.16 L351.98,-28.29 L352.01,-26.45 L352.02,-24.62 L352.03,-22.81 L352.04,-21.02 L352.04,-19.24 L352.03,-17.48 L352.01,-15.74 L351.98,-14.02 L351.95,-12.74 M361.72,-32.04 L361.75,-30.16 L361.78,-28.29 L361.81,-26.45 L361.82,-24.62 L361.83,-22.81 L361.84,-21.02 L361.84,-19.24 L361.83,-17.48 L361.81,-15.74 L361.78,-14.02 L361.75,-12.74 M371.52,-32.04 L371.55,-30.16 L371.58,-28.29 L371.61,-26.45 L371.62,-24.62 L371.63,-22.81 L371.64,-21.02 L371.64,-19.24 L371.63,-17.48 L371.61,-15.74 L371.58,-14.02 L371.55,-12.74 M381.32,-32.04 L381.35,-30.16 L381.38,-28.29 L381.41,-26.45 L381.42,-24.62 L381.43,-22.81 L381.44,-21.02 L381.44,-19.24 L381.43,-17.48 L381.41,-15.74 L381.38,-14.02 L381.35,-12.74 M391.12,-32.04 L391.15,-30.16 L391.18,-28.29 L391.21,-26.45 L391.22,-24.62 L391.23,-22.81 L391.24,-21.02 L391.24,-19.24 L391.23,-17.48 L391.21,-15.74 L391.18,-14.02 L391.15,-12.74 M400.92,-32.04 L400.95,-30.16 L400.98,-28.29 L401.01,-26.45 L401.02,-24.62 L401.03,-22.81 L401.04,-21.02 L401.04,-19.24 L401.03,-17.48 L401.01,-15.74 L400.98,-14.02 L400.95,-12.74 M410.72,-32.04 L410.75,-30.16 L410.78,-28.29 L410.81,-26.45 L410.82,-24.62 L410.83,-22.81 L410.84,-21.02 L410.84,-19.24 L410.83,-17.48 L410.81,-15.74 L410.78,-14.02 L410.75,-12.74 M420.52,-32.04 L420.55,-30.16 L420.58,-28.29 L420.61,-26.45 L420.62,-24.62 L420.63,-22.81 L420.64,-21.02 L420.64,-19.24 L420.63,-17.48 L420.61,-15.74 L420.58,-14.02 L420.55,-12.74 M430.32,-32.04 L430.35,-30.16 L430.38,-28.29 L430.41,-26.45 L430.42,-24.62 L430.43,-22.81 L430.44,-21.02 L430.44,-19.24 L430.43,-17.48 L430.41,-15.74 L430.38,-14.02 L430.35,-12.74" fill="none" stroke="#3a3a3a" stroke-width="1.4"/>
<path d="M3.74,-12.32 L3.72,-11.47 L3.69,-10.63 L3.67,-9.79 L3.64,-8.96 L3.6,-8.13 L3.57,-7.31 L3.53,-6.49 L3.49,-5.68 L3.44,-4.87 L3.4,-4.06 L3.35,-3.26 L3.29,-2.47 L3.24,-1.67 L3.18,-0.89 L3.12,-0.1 L3.05,0.67 L3.02,1.06 M13.54,-12.32 L13.52,-11.47 L13.49,-10.63 L13.47,-9.79 L13.44,-8.96 L13.4,-8.13 L13.37,-7.31 L13.33,-6.49 L13.29,-5.68 L13.24,-4.87 L13.2,-4.06 L13.15,-3.26 L13.09,-2.47 L13.04,-1.67 L12.98,-0.89 L12.92,-0.1 L12.85,0.67 L12.82,1.06 M23.34,-12.32 L23.32,-11.47 L23.29,-10.63 L23.27,-9.79 L23.24,-8.96 L23.2,-8.13 L23.17,-7.31 L23.13,-6.49 L23.09,-5.68 L23.04,-4.87 L23,-4.06 L22.95,-3.26 L22.89,-2.47 L22.84,-1.67 L22.78,-0.89 L22.72,-0.1 L22.65,0.67 L22.62,1.06 M33.14,-12.32 L33.12,-11.47 L33.09,-10.63 L33.07,-9.79 L33.04,-8.96 L33,-8.13 L32.97,-7.31 L32.93,-6.49 L32.89,-5.68 L32.84,-4.87 L32.8,-4.06 L32.75,-3.26 L32.69,-2.47 L32.64,-1.67 L32.58,-0.89 L32.52,-0.1 L32.45,0.67 L32.42,1.06 M42.94,-12.32 L42.92,-11.47 L42.89,-10.63 L42.87,-9.79 L42.84,-8.96 L42.8,-8.13 L42.77,-7.31 L42.73,-6.49 L42.69,-5.68 L42.64,-4.87 L42.6,-4.06 L42.55,-3.26 L42.49,-2.47 L42.44,-1.67 L42.38,-0.89 L42.32,-0.1 L42.25,0.67 L42.22,1.06 M52.74,-12.32 L52.72,-11.47 L52.69,-10.63 L52.67,-9.79 L52.64,-8.96 L52.6,-8.13 L52.57,-7.31 L52.53,-6.49 L52.49,-5.68 L52.44,-4.87 L52.4,-4.06 L52.35,-3.26 L52.29,-2.47 L52.24,-1.67 L52.18,-0.89 L52.12,-0.1 L52.05,0.67 L52.02,1.06 M62.54,-12.32 L62.52,-11.47 L62.49,-10.63 L62.47,-9.79 L62.44,-8.96 L62.4,-8.13 L62.37,-7.31 L62.33,-6.49 L62.29,-5.68 L62.24,-4.87 L62.2,-4.06 L62.15,-3.26 L62.09,-2.47 L62.04,-1.67 L61.98,-0.89 L61.92,-0.1 L61.85,0.67 L61.82,1.06 M72.34,-12.32 L72.32,-11.47 L72.29,-10.63 L72.27,-9.79 L72.24,-8.96 L72.2,-8.13 L72.17,-7.31 L72.13,-6.49 L72.09,-5.68 L72.04,-4.87 L72,-4.06 L71.95,-3.26 L71.89,-2.47 L71.84,-1.67 L71.78,-0.89 L71.72,-0.1 L71.65,0.67 L71.62,1.06 M82.14,-12.32 L82.12,-11.47 L82.09,-10.63 L82.07,-9.79 L82.04,-8.96 L82,-8.13 L81.97,-7.31 L81.93,-6.49 L81.89,-5.68 L81.84,-4.87 L81.8,-4.06 L81.75,-3.26 L81.69,-2.47 L81.64,-1.67 L81.58,-0.89 L81.52,-0.1 L81.45,0.67 L81.42,1.06 M91.94,-12.32 L91.92,-11.47 L91.89,-10.63 L91.87,-9.79 L91.84,-8.96 L91.8,-8.13 L91.77,-7.31 L91.73,-6.49 L91.69,-5.68 L91.64,-4.87 L91.6,-4.06 L91.55,-3.26 L91.49,-2.47 L91.44,-1.67 L91.38,-0.89 L91.32,-0.1 L91.25,0.67 L91.22,1.06 M101.74,-12.32 L101.72,-11.47 L101.69,-10.63 L101.67,-9.79 L101.64,-8.96 L101.6,-8.13 L101.57,-7.31 L101.53,-6.49 L101.49,-5.68 L101.44,-4.87 L101.4,-4.06 L101.35,-3.26 L101.29,-2.47 L101.24,-1.67 L101.18,-0.89 L101.12,-0.1 L101.05,0.67 L101.02,1.06 M111.54,-12.32 L111.52,-11.47 L111.49,-10.63 L111.47,-9.79 L111.44,-8.96 L111.4,-8.13 L111.37,-7.31 L111.33,-6.49 L111.29,-5.68 L111.24,-4.87 L111.2,-4.06 L111.15,-3.26 L111.09,-2.47 L111.04,-1.67 L110.98,-0.89 L110.92,-0.1 L110.85,0.67 L110.82,1.06 M121.34,-12.32 L121.32,-11.47 L121.29,-10.63 L121.27,-9.79 L121.24,-8.96 L121.2,-8.13 L121.17,-7.31 L121.13,-6.49 L121.09,-5.68 L121.04,-4.87 L121,-4.06 L120.95,-3.26 L120.89,-2.47 L120.84,-1.67 L120.78,-0.89 L120.72,-0.1 L120.65,0.67 L120.62,1.06 M131.14,-12.32 L131.12,-11.47 L131.09,-10.63 L131.07,-9.79 L131.04,-8.96 L131,-8.13 L130.97,-7.31 L130.93,-6.49 L130.89,-5.68 L130.84,-4.87 L130.8,-4.06 L130.75,-3.26 L130.69,-2.47 L130.64,-1.67 L130.58,-0.89 L130.52,-0.1 L130.45,0.67 L130.42,1.06 M140.94,-12.32 L140.92,-11.47 L140.89,-10.63 L140.87,-9.79 L140.84,-8.96 L140.8,-8.13 L140.77,-7.31 L140.73,-6.49 L140.69,-5.68 L140.64,-4.87 L140.6,-4.06 L140.55,-3.26 L140.49,-2.47 L140.44,-1.67 L140.38,-0.89 L140.32,-0.1 L140.25,0.67 L140.22,1.06 M150.74,-12.32 L150.72,-11.47 L150.69,-10.63 L150.67,-9.79 L150.64,-8.96 L150.6,-8.13 L150.57,-7.31 L150.53,-6.49 L150.49,-5.68 L150.44,-4.87 L150.4,-4.06 L150.35,-3.26 L150.29,-2.47 L150.24,-1.67 L150.18,-0.89 L150.12,-0.1 L150.05,0.67 L150.02,1.06 M160.54,-12.32 L160.52,-11.47 L160.49,-10.63 L160.47,-9.79 L160.44,-8.96 L160.4,-8.13 L160.37,-7.31 L160.33,-6.49 L160.29,-5.68 L160.24,-4.87 L160.2,-4.06 L160.15,-3.26 L160.09,-2.47 L160.04,-1.67 L159.98,-0.89 L159.92,-0.1 L159.85,0.67 L159.82,1.06 M170.34,-12.32 L170.32,-11.47 L170.29,-10.63 L170.27,-9.79 L170.24,-8.96 L170.2,-8.13 L170.17,-7.31 L170.13,-6.49 L170.09,-5.68 L170.04,-4.87 L170,-4.06 L169.95,-3.26 L169.89,-2.47 L169.84,-1.67 L169.78,-0.89 L169.72,-0.1 L169.65,0.67 L169.62,1.06 M180.14,-12.32 L180.12,-11.47 L180.09,-10.63 L180.07,-9.79 L180.04,-8.96 L180,-8.13 L179.97,-7.31 L179.93,-6.49 L179.89,-5.68 L179.84,-4.87 L179.8,-4.06 L179.75,-3.26 L179.69,-2.47 L179.64,-1.67 L179.58,-0.89 L179.52,-0.1 L179.45,0.67 L179.42,1.06 M189.94,-12.32 L189.92,-11.47 L189.89,-10.63 L189.87,-9.79 L189.84,-8.96 L189.8,-8.13 L189.77,-7.31 L189.73,-6.49 L189.69,-5.68 L189.64,-4.87 L189.6,-4.06 L189.55,-3.26 L189.49,-2.47 L189.44,-1.67 L189.38,-0.89 L189.32,-0.1 L189.25,0.67 L189.22,1.06 M199.74,-12.32 L199.72,-11.47 L199.69,-10.63 L199.67,-9.79 L199.64,-8.96 L199.6,-8.13 L199.57,-7.31 L199.53,-6.49 L199.49,-5.68 L199.44,-4.87 L199.4,-4.06 L199.35,-3.26 L199.29,-2.47 L199.24,-1.67 L199.18,-0.89 L199.12,-0.1 L199.05,0.67 L199.02,1.06 M209.54,-12.32 L209.52,-11.47 L209.49,-10.63 L209.47,-9.79 L209.44,-8.96 L209.4,-8.13 L209.37,-7.31 L209.33,-6.49 L209.29,-5.68 L209.24,-4.87 L209.2,-4.06 L209.15,-3.26 L209.09,-2.47 L209.04,-1.67 L208.98,-0.89 L208.92,-0.1 L208.85,0.67 L208.82,1.06 M219.34,-12.32 L219.32,-11.47 L219.29,-10.63 L219.27,-9.79 L219.24,-8.96 L219.2,-8.13 L219.17,-7.31 L219.13,-6.49 L219.09,-5.68 L219.04,-4.87 L219,-4.06 L218.95,-3.26 L218.89,-2.47 L218.84,-1.67 L218.78,-0.89 L218.72,-0.1 L218.65,0.67 L218.62,1.06 M229.14,-12.32 L229.12,-11.47 L229.09,-10.63 L229.07,-9.79 L229.04,-8.96 L229,-8.13 L228.97,-7.31 L228.93,-6.49 L228.89,-5.68 L228.84,-4.87 L228.8,-4.06 L228.75,-3.26 L228.69,-2.47 L228.64,-1.67 L228.58,-0.89 L228.52,-0.1 L228.45,0.67 L228.42,1.06 M238.94,-12.32 L238.92,-11.47 L238.89,-10.63 L238.87,-9.79 L238.84,-8.96 L238.8,-8.13 L238.77,-7.31 L238.73,-6.49 L238.69,-5.68 L238.64,-4.87 L238.6,-4.06 L238.55,-3.26 L238.49,-2.47 L238.44,-1.67 L238.38,-0.89 L238.32,-0.1 L238.25,0.67 L238.22,1.06 M248.74,-12.32 L248.72,-11.47 L248.69,-10.63 L248.67,-9.79 L248.64,-8.96 L248.6,-8.13 L248.57,-7.31 L248.53,-6.49 L248.49,-5.68 L248.44,-4.87 L248.4,-4.06 L248.35,-3.26 L248.29,-2.47 L248.24,-1.67 L248.18,-0.89 L248.12,-0.1 L248.05,0.67 L248.02,1.06 M258.54,-12.32 L258.52,-11.47 L258.49,-10.63 L258.47,-9.79 L258.44,-8.96 L258.4,-8.13 L258.37,-7.31 L258.33,-6.49 L258.29,-5.68 L258.24,-4.87 L258.2,-4.06 L258.15,-3.26 L258.09,-2.47 L258.04,-1.67 L257.98,-0.89 L257.92,-0.1 L257.85,0.67 L257.82,1.06 M268.34,-12.32 L268.32,-11.47 L268.29,-10.63 L268.27,-9.79 L268.24,-8.96 L268.2,-8.13 L268.17,-7.31 L268.13,-6.49 L268.09,-5.68 L268.04,-4.87 L268,-4.06 L267.95,-3.26 L267.89,-2.47 L267.84,-1.67 L267.78,-0.89 L267.72,-0.1 L267.65,0.67 L267.62,1.06 M278.14,-12.32 L278.12,-11.47 L278.09,-10.63 L278.07,-9.79 L278.04,-8.96 L278,-8.13 L277.97,-7.31 L277.93,-6.49 L277.89,-5.68 L277.84,-4.87 L277.8,-4.06 L277.75,-3.26 L277.69,-2.47 L277.64,-1.67 L277.58,-0.89 L277.52,-0.1 L277.45,0.67 L277.42,1.06 M287.94,-12.32 L287.92,-11.47 L287.89,-10.63 L287.87,-9.79 L287.84,-8.96 L287.8,-8.13 L287.77,-7.31 L287.73,-6.49 L287.69,-5.68 L287.64,-4.87 L287.6,-4.06 L287.55,-3.26 L287.49,-2.47 L287.44,-1.67 L287.38,-0.89 L287.32,-0.1 L287.25,0.67 L287.22,1.06 M297.74,-12.32 L297.72,-11.47 L297.69,-10.63 L297.67,-9.79 L297.64,-8.96 L297.6,-8.13 L297.57,-7.31 L297.53,-6.49 L297.49,-5.68 L297.44,-4.87 L297.4,-4.06 L297.35,-3.26 L297.29,-2.47 L297.24,-1.67 L297.18,-0.89 L297.12,-0.1 L297.05,0.67 L297.02,1.06 M307.54,-12.32 L307.52,-11.47 L307.49,-10.63 L307.47,-9.79 L307.44,-8.96 L307.4,-8.13 L307.37,-7.31 L307.33,-6.49 L307.29,-5.68 L307.24,-4.87 L307.2,-4.06 L307.15,-3.26 L307.09,-2.47 L307.04,-1.67 L306.98,-0.89 L306.92,-0.1 L306.85,0.67 L306.82,1.06 M317.34,-12.32 L317.32,-11.47 L317.29,-10.63 L317.27,-9.79 L317.24,-8.96 L317.2,-8.13 L317.17,-7.31 L317.13,-6.49 L317.09,-5.68 L317.04,-4.87 L317,-4.06 L316.95,-3.26 L316.89,-2.47 L316.84,-1.67 L316.78,-0.89 L316.72,-0.1 L316.65,0.67 L316.62,1.06 M327.14,-12.32 L327.12,-11.47 L327.09,-10.63 L327.07,-9.79 L327.04,-8.96 L327,-8.13 L326.97,-7.31 L326.93,-6.49 L326.89,-5.68 L326.84,-4.87 L326.8,-4.06 L326.75,-3.26 L326.69,-2.47 L326.64,-1.67 L326.58,-0.89 L326.52,-0.1 L326.45,0.67 L326.42,1.06 M336.94,-12.32 L336.92,-11.47 L336.89,-10.63 L336.87,-9.79 L336.84,-8.96 L336.8,-8.13 L336.77,-7.31 L336.73,-6.49 L336.69,-5.68 L336.64,-4.87 L336.6,-4.06 L336.55,-3.26 L336.49,-2.47 L336.44,-1.67 L336.38,-0.89 L336.32,-0.1 L336.25,0.67 L336.22,1.06 M346.74,-12.32 L346.72,-11.47 L346.69,-10.63 L346.67,-9.79 L346.64,-8.96 L346.6,-8.13 L346.57,-7.31 L346.53,-6.49 L346.49,-5.68 L346.44,-4.87 L346.4,-4.06 L346.35,-3.26 L346.29,-2.47 L346.24,-1.67 L346.18,-0.89 L346.12,-0.1 L346.05,0.67 L346.02,1.06 M356.54,-12.32 L356.52,-11.47 L356.49,-10.63 L356.47,-9.79 L356.44,-8.96 L356.4,-8.13 L356.37,-7.31 L356.33,-6.49 L356.29,-5.68 L356.24,-4.87 L356.2,-4.06 L356.15,-3.26 L356.09,-2.47 L356.04,-1.67 L355.98,-0.89 L355.92,-0.1 L355.85,0.67 L355.82,1.06 M366.34,-12.32 L366.32,-11.47 L366.29,-10.63 L366.27,-9.79 L366.24,-8.96 L366.2,-8.13 L366.17,-7.31 L366.13,-6.49 L366.09,-5.68 L366.04,-4.87 L366,-4.06 L365.95,-3.26 L365.89,-2.47 L365.84,-1.67 L365.78,-0.89 L365.72,-0.1 L365.65,0.67 L365.62,1.06 M376.14,-12.32 L376.12,-11.47 L376.09,-10.63 L376.07,-9.79 L376.04,-8.96 L376,-8.13 L375.97,-7.31 L375.93,-6.49 L375.89,-5.68 L375.84,-4.87 L375.8,-4.06 L375.75,-3.26 L375.69,-2.47 L375.64,-1.67 L375.58,-0.89 L375.52,-0.1 L375.45,0.67 L375.42,1.06 M385.94,-12.32 L385.92,-11.47 L385.89,-10.63 L385.87,-9.79 L385.84,-8.96 L385.8,-8.13 L385.77,-7.31 L385.73,-6.49 L385.69,-5.68 L385.64,-4.87 L385.6,-4.06 L385.55,-3.26 L385.49,-2.47 L385.44,-1.67 L385.38,-0.89 L385.32,-0.1 L385.25,0.67 L385.22,1.06 M395.74,-12.32 L395.72,-11.47 L395.69,-10.63 L395.67,-9.79 L395.64,-8.96 L395.6,-8.13 L395.57,-7.31 L395.53,-6.49 L395.49,-5.68 L395.44,-4.87 L395.4,-4.06 L395.35,-3.26 L395.29,-2.47 L395.24,-1.67 L395.18,-0.89 L395.12,-0.1 L395.05,0.67 L395.02,1.06 M405.54,-12.32 L405.52,-11.47 L405.49,-10.63 L405.47,-9.79 L405.44,-8.96 L405.4,-8.13 L405.37,-7.31 L405.33,-6.49 L405.29,-5.68 L405.24,-4.87 L405.2,-4.06 L405.15,-3.26 L405.09,-2.47 L405.04,-1.67 L404.98,-0.89 L404.92,-0.1 L404.85,0.67 L404.82,1.06 M415.34,-12.32 L415.32,-11.47 L415.29,-10.63 L415.27,-9.79 L415.24,-8.96 L415.2,-8.13 L415.17,-7.31 L415.13,-6.49 L415.09,-5.68 L415.04,-4.87 L415,-4.06 L414.95,-3.26 L414.89,-2.47 L414.84,-1.67 L414.78,-0.89 L414.72,-0.1 L414.65,0.67 L414.62,1.06 M425.14,-12.32 L425.12,-11.47 L425.09,-10.63 L425.07,-9.79 L425.04,-8.96 L425,-8.13 L424.97,-7.31 L424.93,-6.49 L424.89,-5.68 L424.84,-4.87 L424.8,-4.06 L424.75,-3.26 L424.69,-2.47 L424.64,-1.67 L424.58,-0.89 L424.52,-0.1 L424.45,0.67 L424.42,1.06 M434.94,-12.32 L434.92,-11.47 L434.89,-10.63 L434.87,-9.79 L434.84,-8.96 L434.8,-8.13 L434.77,-7.31 L434.73,-6.49 L434.69,-5.68 L434.64,-4.87 L434.6,-4.06 L434.55,-3.26 L434.49,-2.47 L434.44,-1.67 L434.38,-0.89 L434.32,-0.1 L434.25,0.67 L434.22,1.06" fill="none" stroke="#cdcdcd" stroke-width="4.6"/>
<path d="M0.22,1.06 L-0.13,4.5 L-0.55,7.85 L-1.05,11.1 L-1.64,14.26 L-2.31,17.34 L-3.08,20.32 L-3.96,23.2 L-4.93,26 L-6.02,28.7 L-7.23,31.31 L-8.56,33.83 L-10.01,36.25 L-10.35,36.78 M10.02,1.06 L9.67,4.5 L9.25,7.85 L8.75,11.1 L8.16,14.26 L7.49,17.34 L6.72,20.32 L5.84,23.2 L4.87,26 L3.78,28.7 L2.57,31.31 L1.24,33.83 L-0.21,36.25 L-0.55,36.78 M19.82,1.06 L19.47,4.5 L19.05,7.85 L18.55,11.1 L17.96,14.26 L17.29,17.34 L16.52,20.32 L15.64,23.2 L14.67,26 L13.58,28.7 L12.37,31.31 L11.04,33.83 L9.59,36.25 L9.25,36.78 M29.62,1.06 L29.27,4.5 L28.85,7.85 L28.35,11.1 L27.76,14.26 L27.09,17.34 L26.32,20.32 L25.44,23.2 L24.47,26 L23.38,28.7 L22.17,31.31 L20.84,33.83 L19.39,36.25 L19.05,36.78 M39.42,1.06 L39.07,4.5 L38.65,7.85 L38.15,11.1 L37.56,14.26 L36.89,17.34 L36.12,20.32 L35.24,23.2 L34.27,26 L33.18,28.7 L31.97,31.31 L30.64,33.83 L29.19,36.25 L28.85,36.78 M49.22,1.06 L48.87,4.5 L48.45,7.85 L47.95,11.1 L47.36,14.26 L46.69,17.34 L45.92,20.32 L45.04,23.2 L44.07,26 L42.98,28.7 L41.77,31.31 L40.44,33.83 L38.99,36.25 L38.65,36.78 M59.02,1.06 L58.67,4.5 L58.25,7.85 L57.75,11.1 L57.16,14.26 L56.49,17.34 L55.72,20.32 L54.84,23.2 L53.87,26 L52.78,28.7 L51.57,31.31 L50.24,33.83 L48.79,36.25 L48.45,36.78 M68.82,1.06 L68.47,4.5 L68.05,7.85 L67.55,11.1 L66.96,14.26 L66.29,17.34 L65.52,20.32 L64.64,23.2 L63.67,26 L62.58,28.7 L61.37,31.31 L60.04,33.83 L58.59,36.25 L58.25,36.78 M78.62,1.06 L78.27,4.5 L77.85,7.85 L77.35,11.1 L76.76,14.26 L76.09,17.34 L75.32,20.32 L74.44,23.2 L73.47,26 L72.38,28.7 L71.17,31.31 L69.84,33.83 L68.39,36.25 L68.05,36.78 M88.42,1.06 L88.07,4.5 L87.65,7.85 L87.15,11.1 L86.56,14.26 L85.89,17.34 L85.12,20.32 L84.24,23.2 L83.27,26 L82.18,28.7 L80.97,31.31 L79.64,33.83 L78.19,36.25 L77.85,36.78 M98.22,1.06 L97.87,4.5 L97.45,7.85 L96.95,11.1 L96.36,14.26 L95.69,17.34 L94.92,20.32 L94.04,23.2 L93.07,26 L91.98,28.7 L90.77,31.31 L89.44,33.83 L87.99,36.25 L87.65,36.78 M108.02,1.06 L107.67,4.5 L107.25,7.85 L106.75,11.1 L106.16,14.26 L105.49,17.34 L104.72,20.32 L103.84,23.2 L102.87,26 L101.78,28.7 L100.57,31.31 L99.24,33.83 L97.79,36.25 L97.45,36.78 M117.82,1.06 L117.47,4.5 L117.05,7.85 L116.55,11.1 L115.96,14.26 L115.29,17.34 L114.52,20.32 L113.64,23.2 L112.67,26 L111.58,28.7 L110.37,31.31 L109.04,33.83 L107.59,36.25 L107.25,36.78 M127.62,1.06 L127.27,4.5 L126.85,7.85 L126.35,11.1 L125.76,14.26 L125.09,17.34 L124.32,20.32 L123.44,23.2 L122.47,26 L121.38,28.7 L120.17,31.31 L118.84,33.83 L117.39,36.25 L117.05,36.78 M137.42,1.06 L137.07,4.5 L136.65,7.85 L136.15,11.1 L135.56,14.26 L134.89,17.34 L134.12,20.32 L133.24,23.2 L132.27,26 L131.18,28.7 L129.97,31.31 L128.64,33.83 L127.19,36.25 L126.85,36.78 M147.22,1.06 L146.87,4.5 L146.45,7.85 L145.95,11.1 L145.36,14.26 L144.69,17.34 L143.92,20.32 L143.04,23.2 L142.07,26 L140.98,28.7 L139.77,31.31 L138.44,33.83 L136.99,36.25 L136.65,36.78 M157.02,1.06 L156.67,4.5 L156.25,7.85 L155.75,11.1 L155.16,14.26 L154.49,17.34 L153.72,20.32 L152.84,23.2 L151.87,26 L150.78,28.7 L149.57,31.31 L148.24,33.83 L146.79,36.25 L146.45,36.78 M166.82,1.06 L166.47,4.5 L166.05,7.85 L165.55,11.1 L164.96,14.26 L164.29,17.34 L163.52,20.32 L162.64,23.2 L161.67,26 L160.58,28.7 L159.37,31.31 L158.04,33.83 L156.59,36.25 L156.25,36.78 M176.62,1.06 L176.27,4.5 L175.85,7.85 L175.35,11.1 L174.76,14.26 L174.09,17.34 L173.32,20.32 L172.44,23.2 L171.47,26 L170.38,28.7 L169.17,31.31 L167.84,33.83 L166.39,36.25 L166.05,36.78 M186.42,1.06 L186.07,4.5 L185.65,7.85 L185.15,11.1 L184.56,14.26 L183.89,17.34 L183.12,20.32 L182.24,23.2 L181.27,26 L180.18,28.7 L178.97,31.31 L177.64,33.83 L176.19,36.25 L175.85,36.78 M196.22,1.06 L195.87,4.5 L195.45,7.85 L194.95,11.1 L194.36,14.26 L193.69,17.34 L192.92,20.32 L192.04,23.2 L191.07,26 L189.98,28.7 L188.77,31.31 L187.44,33.83 L185.99,36.25 L185.65,36.78 M206.02,1.06 L205.67,4.5 L205.25,7.85 L204.75,11.1 L204.16,14.26 L203.49,17.34 L202.72,20.32 L201.84,23.2 L200.87,26 L199.78,28.7 L198.57,31.31 L197.24,33.83 L195.79,36.25 L195.45,36.78 M215.82,1.06 L215.47,4.5 L215.05,7.85 L214.55,11.1 L213.96,14.26 L213.29,17.34 L212.52,20.32 L211.64,23.2 L210.67,26 L209.58,28.7 L208.37,31.31 L207.04,33.83 L205.59,36.25 L205.25,36.78 M225.62,1.06 L225.27,4.5 L224.85,7.85 L224.35,11.1 L223.76,14.26 L223.09,17.34 L222.32,20.32 L221.44,23.2 L220.47,26 L219.38,28.7 L218.17,31.31 L216.84,33.83 L215.39,36.25 L215.05,36.78 M235.42,1.06 L235.07,4.5 L234.65,7.85 L234.15,11.1 L233.56,14.26 L232.89,17.34 L232.12,20.32 L231.24,23.2 L230.27,26 L229.18,28.7 L227.97,31.31 L226.64,33.83 L225.19,36.25 L224.85,36.78 M245.22,1.06 L244.87,4.5 L244.45,7.85 L243.95,11.1 L243.36,14.26 L242.69,17.34 L241.92,20.32 L241.04,23.2 L240.07,26 L238.98,28.7 L237.77,31.31 L236.44,33.83 L234.99,36.25 L234.65,36.78 M255.02,1.06 L254.67,4.5 L254.25,7.85 L253.75,11.1 L253.16,14.26 L252.49,17.34 L251.72,20.32 L250.84,23.2 L249.87,26 L248.78,28.7 L247.57,31.31 L246.24,33.83 L244.79,36.25 L244.45,36.78 M264.82,1.06 L264.47,4.5 L264.05,7.85 L263.55,11.1 L262.96,14.26 L262.29,17.34 L261.52,20.32 L260.64,23.2 L259.67,26 L258.58,28.7 L257.37,31.31 L256.04,33.83 L254.59,36.25 L254.25,36.78 M274.62,1.06 L274.27,4.5 L273.85,7.85 L273.35,11.1 L272.76,14.26 L272.09,17.34 L271.32,20.32 L270.44,23.2 L269.47,26 L268.38,28.7 L267.17,31.31 L265.84,33.83 L264.39,36.25 L264.05,36.78 M284.42,1.06 L284.07,4.5 L283.65,7.85 L283.15,11.1 L282.56,14.26 L281.89,17.34 L281.12,20.32 L280.24,23.2 L279.27,26 L278.18,28.7 L276.97,31.31 L275.64,33.83 L274.19,36.25 L273.85,36.78 M294.22,1.06 L293.87,4.5 L293.45,7.85 L292.95,11.1 L292.36,14.26 L291.69,17.34 L290.92,20.32 L290.04,23.2 L289.07,26 L287.98,28.7 L286.77,31.31 L285.44,33.83 L283.99,36.25 L283.65,36.78 M304.02,1.06 L303.67,4.5 L303.25,7.85 L302.75,11.1 L302.16,14.26 L301.49,17.34 L300.72,20.32 L299.84,23.2 L298.87,26 L297.78,28.7 L296.57,31.31 L295.24,33.83 L293.79,36.25 L293.45,36.78 M313.82,1.06 L313.47,4.5 L313.05,7.85 L312.55,11.1 L311.96,14.26 L311.29,17.34 L310.52,20.32 L309.64,23.2 L308.67,26 L307.58,28.7 L306.37,31.31 L305.04,33.83 L303.59,36.25 L303.25,36.78 M323.62,1.06 L323.27,4.5 L322.85,7.85 L322.35,11.1 L321.76,14.26 L321.09,17.34 L320.32,20.32 L319.44,23.2 L318.47,26 L317.38,28.7 L316.17,31.31 L314.84,33.83 L313.39,36.25 L313.05,36.78 M333.42,1.06 L333.07,4.5 L332.65,7.85 L332.15,11.1 L331.56,14.26 L330.89,17.34 L330.12,20.32 L329.24,23.2 L328.27,26 L327.18,28.7 L325.97,31.31 L324.64,33.83 L323.19,36.25 L322.85,36.78 M343.22,1.06 L342.87,4.5 L342.45,7.85 L341.95,11.1 L341.36,14.26 L340.69,17.34 L339.92,20.32 L339.04,23.2 L338.07,26 L336.98,28.7 L335.77,31.31 L334.44,33.83 L332.99,36.25 L332.65,36.78 M353.02,1.06 L352.67,4.5 L352.25,7.85 L351.75,11.1 L351.16,14.26 L350.49,17.34 L349.72,20.32 L348.84,23.2 L347.87,26 L346.78,28.7 L345.57,31.31 L344.24,33.83 L342.79,36.25 L342.45,36.78 M362.82,1.06 L362.47,4.5 L362.05,7.85 L361.55,11.1 L360.96,14.26 L360.29,17.34 L359.52,20.32 L358.64,23.2 L357.67,26 L356.58,28.7 L355.37,31.31 L354.04,33.83 L352.59,36.25 L352.25,36.78 M372.62,1.06 L372.27,4.5 L371.85,7.85 L371.35,11.1 L370.76,14.26 L370.09,17.34 L369.32,20.32 L368.44,23.2 L367.47,26 L366.38,28.7 L365.17,31.31 L363.84,33.83 L362.39,36.25 L362.05,36.78 M382.42,1.06 L382.07,4.5 L381.65,7.85 L381.15,11.1 L380.56,14.26 L379.89,17.34 L379.12,20.32 L378.24,23.2 L377.27,26 L376.18,28.7 L374.97,31.31 L373.64,33.83 L372.19,36.25 L371.85,36.78 M392.22,1.06 L391.87,4.5 L391.45,7.85 L390.95,11.1 L390.36,14.26 L389.69,17.34 L388.92,20.32 L388.04,23.2 L387.07,26 L385.98,28.7 L384.77,31.31 L383.44,33.83 L381.99,36.25 L381.65,36.78 M402.02,1.06 L401.67,4.5 L401.25,7.85 L400.75,11.1 L400.16,14.26 L399.49,17.34 L398.72,20.32 L397.84,23.2 L396.87,26 L395.78,28.7 L394.57,31.31 L393.24,33.83 L391.79,36.25 L391.45,36.78 M411.82,1.06 L411.47,4.5 L411.05,7.85 L410.55,11.1 L409.96,14.26 L409.29,17.34 L408.52,20.32 L407.64,23.2 L406.67,26 L405.58,28.7 L404.37,31.31 L403.04,33.83 L401.59,36.25 L401.25,36.78 M421.62,1.06 L421.27,4.5 L420.85,7.85 L420.35,11.1 L419.76,14.26 L419.09,17.34 L418.32,20.32 L417.44,23.2 L416.47,26 L415.38,28.7 L414.17,31.31 L412.84,33.83 L411.39,36.25 L411.05,36.78 M431.42,1.06 L431.07,4.5 L430.65,7.85 L430.15,11.1 L429.56,14.26 L428.89,17.34 L428.12,20.32 L427.24,23.2 L426.27,26 L425.18,28.7 L423.97,31.31 L422.64,33.83 L421.19,36.25 L420.85,36.78" fill="none" stroke="url(#thTube)" stroke-width="5.6"/>
<path d="M2.01,2.22 L1.59,6 L1.08,9.67 L0.47,13.22 L-0.26,16.66 L-1.09,19.99 L-2.06,23.2 L-3.15,26.3 L-4.38,29.29 L-5.76,32.16 L-7.29,34.92 L-8.11,36.25 M11.81,2.22 L11.39,6 L10.88,9.67 L10.27,13.22 L9.54,16.66 L8.71,19.99 L7.74,23.2 L6.65,26.3 L5.42,29.29 L4.04,32.16 L2.51,34.92 L1.69,36.25 M21.61,2.22 L21.19,6 L20.68,9.67 L20.07,13.22 L19.34,16.66 L18.51,19.99 L17.54,23.2 L16.45,26.3 L15.22,29.29 L13.84,32.16 L12.31,34.92 L11.49,36.25 M31.41,2.22 L30.99,6 L30.48,9.67 L29.87,13.22 L29.14,16.66 L28.31,19.99 L27.34,23.2 L26.25,26.3 L25.02,29.29 L23.64,32.16 L22.11,34.92 L21.29,36.25 M41.21,2.22 L40.79,6 L40.28,9.67 L39.67,13.22 L38.94,16.66 L38.11,19.99 L37.14,23.2 L36.05,26.3 L34.82,29.29 L33.44,32.16 L31.91,34.92 L31.09,36.25 M51.01,2.22 L50.59,6 L50.08,9.67 L49.47,13.22 L48.74,16.66 L47.91,19.99 L46.94,23.2 L45.85,26.3 L44.62,29.29 L43.24,32.16 L41.71,34.92 L40.89,36.25 M60.81,2.22 L60.39,6 L59.88,9.67 L59.27,13.22 L58.54,16.66 L57.71,19.99 L56.74,23.2 L55.65,26.3 L54.42,29.29 L53.04,32.16 L51.51,34.92 L50.69,36.25 M70.61,2.22 L70.19,6 L69.68,9.67 L69.07,13.22 L68.34,16.66 L67.51,19.99 L66.54,23.2 L65.45,26.3 L64.22,29.29 L62.84,32.16 L61.31,34.92 L60.49,36.25 M80.41,2.22 L79.99,6 L79.48,9.67 L78.87,13.22 L78.14,16.66 L77.31,19.99 L76.34,23.2 L75.25,26.3 L74.02,29.29 L72.64,32.16 L71.11,34.92 L70.29,36.25 M90.21,2.22 L89.79,6 L89.28,9.67 L88.67,13.22 L87.94,16.66 L87.11,19.99 L86.14,23.2 L85.05,26.3 L83.82,29.29 L82.44,32.16 L80.91,34.92 L80.09,36.25 M100.01,2.22 L99.59,6 L99.08,9.67 L98.47,13.22 L97.74,16.66 L96.91,19.99 L95.94,23.2 L94.85,26.3 L93.62,29.29 L92.24,32.16 L90.71,34.92 L89.89,36.25 M109.81,2.22 L109.39,6 L108.88,9.67 L108.27,13.22 L107.54,16.66 L106.71,19.99 L105.74,23.2 L104.65,26.3 L103.42,29.29 L102.04,32.16 L100.51,34.92 L99.69,36.25 M119.61,2.22 L119.19,6 L118.68,9.67 L118.07,13.22 L117.34,16.66 L116.51,19.99 L115.54,23.2 L114.45,26.3 L113.22,29.29 L111.84,32.16 L110.31,34.92 L109.49,36.25 M129.41,2.22 L128.99,6 L128.48,9.67 L127.87,13.22 L127.14,16.66 L126.31,19.99 L125.34,23.2 L124.25,26.3 L123.02,29.29 L121.64,32.16 L120.11,34.92 L119.29,36.25 M139.21,2.22 L138.79,6 L138.28,9.67 L137.67,13.22 L136.94,16.66 L136.11,19.99 L135.14,23.2 L134.05,26.3 L132.82,29.29 L131.44,32.16 L129.91,34.92 L129.09,36.25 M149.01,2.22 L148.59,6 L148.08,9.67 L147.47,13.22 L146.74,16.66 L145.91,19.99 L144.94,23.2 L143.85,26.3 L142.62,29.29 L141.24,32.16 L139.71,34.92 L138.89,36.25 M158.81,2.22 L158.39,6 L157.88,9.67 L157.27,13.22 L156.54,16.66 L155.71,19.99 L154.74,23.2 L153.65,26.3 L152.42,29.29 L151.04,32.16 L149.51,34.92 L148.69,36.25 M168.61,2.22 L168.19,6 L167.68,9.67 L167.07,13.22 L166.34,16.66 L165.51,19.99 L164.54,23.2 L163.45,26.3 L162.22,29.29 L160.84,32.16 L159.31,34.92 L158.49,36.25 M178.41,2.22 L177.99,6 L177.48,9.67 L176.87,13.22 L176.14,16.66 L175.31,19.99 L174.34,23.2 L173.25,26.3 L172.02,29.29 L170.64,32.16 L169.11,34.92 L168.29,36.25 M188.21,2.22 L187.79,6 L187.28,9.67 L186.67,13.22 L185.94,16.66 L185.11,19.99 L184.14,23.2 L183.05,26.3 L181.82,29.29 L180.44,32.16 L178.91,34.92 L178.09,36.25 M198.01,2.22 L197.59,6 L197.08,9.67 L196.47,13.22 L195.74,16.66 L194.91,19.99 L193.94,23.2 L192.85,26.3 L191.62,29.29 L190.24,32.16 L188.71,34.92 L187.89,36.25 M207.81,2.22 L207.39,6 L206.88,9.67 L206.27,13.22 L205.54,16.66 L204.71,19.99 L203.74,23.2 L202.65,26.3 L201.42,29.29 L200.04,32.16 L198.51,34.92 L197.69,36.25 M217.61,2.22 L217.19,6 L216.68,9.67 L216.07,13.22 L215.34,16.66 L214.51,19.99 L213.54,23.2 L212.45,26.3 L211.22,29.29 L209.84,32.16 L208.31,34.92 L207.49,36.25 M227.41,2.22 L226.99,6 L226.48,9.67 L225.87,13.22 L225.14,16.66 L224.31,19.99 L223.34,23.2 L222.25,26.3 L221.02,29.29 L219.64,32.16 L218.11,34.92 L217.29,36.25 M237.21,2.22 L236.79,6 L236.28,9.67 L235.67,13.22 L234.94,16.66 L234.11,19.99 L233.14,23.2 L232.05,26.3 L230.82,29.29 L229.44,32.16 L227.91,34.92 L227.09,36.25 M247.01,2.22 L246.59,6 L246.08,9.67 L245.47,13.22 L244.74,16.66 L243.91,19.99 L242.94,23.2 L241.85,26.3 L240.62,29.29 L239.24,32.16 L237.71,34.92 L236.89,36.25 M256.81,2.22 L256.39,6 L255.88,9.67 L255.27,13.22 L254.54,16.66 L253.71,19.99 L252.74,23.2 L251.65,26.3 L250.42,29.29 L249.04,32.16 L247.51,34.92 L246.69,36.25 M266.61,2.22 L266.19,6 L265.68,9.67 L265.07,13.22 L264.34,16.66 L263.51,19.99 L262.54,23.2 L261.45,26.3 L260.22,29.29 L258.84,32.16 L257.31,34.92 L256.49,36.25 M276.41,2.22 L275.99,6 L275.48,9.67 L274.87,13.22 L274.14,16.66 L273.31,19.99 L272.34,23.2 L271.25,26.3 L270.02,29.29 L268.64,32.16 L267.11,34.92 L266.29,36.25 M286.21,2.22 L285.79,6 L285.28,9.67 L284.67,13.22 L283.94,16.66 L283.11,19.99 L282.14,23.2 L281.05,26.3 L279.82,29.29 L278.44,32.16 L276.91,34.92 L276.09,36.25 M296.01,2.22 L295.59,6 L295.08,9.67 L294.47,13.22 L293.74,16.66 L292.91,19.99 L291.94,23.2 L290.85,26.3 L289.62,29.29 L288.24,32.16 L286.71,34.92 L285.89,36.25 M305.81,2.22 L305.39,6 L304.88,9.67 L304.27,13.22 L303.54,16.66 L302.71,19.99 L301.74,23.2 L300.65,26.3 L299.42,29.29 L298.04,32.16 L296.51,34.92 L295.69,36.25 M315.61,2.22 L315.19,6 L314.68,9.67 L314.07,13.22 L313.34,16.66 L312.51,19.99 L311.54,23.2 L310.45,26.3 L309.22,29.29 L307.84,32.16 L306.31,34.92 L305.49,36.25 M325.41,2.22 L324.99,6 L324.48,9.67 L323.87,13.22 L323.14,16.66 L322.31,19.99 L321.34,23.2 L320.25,26.3 L319.02,29.29 L317.64,32.16 L316.11,34.92 L315.29,36.25 M335.21,2.22 L334.79,6 L334.28,9.67 L333.67,13.22 L332.94,16.66 L332.11,19.99 L331.14,23.2 L330.05,26.3 L328.82,29.29 L327.44,32.16 L325.91,34.92 L325.09,36.25 M345.01,2.22 L344.59,6 L344.08,9.67 L343.47,13.22 L342.74,16.66 L341.91,19.99 L340.94,23.2 L339.85,26.3 L338.62,29.29 L337.24,32.16 L335.71,34.92 L334.89,36.25 M354.81,2.22 L354.39,6 L353.88,9.67 L353.27,13.22 L352.54,16.66 L351.71,19.99 L350.74,23.2 L349.65,26.3 L348.42,29.29 L347.04,32.16 L345.51,34.92 L344.69,36.25 M364.61,2.22 L364.19,6 L363.68,9.67 L363.07,13.22 L362.34,16.66 L361.51,19.99 L360.54,23.2 L359.45,26.3 L358.22,29.29 L356.84,32.16 L355.31,34.92 L354.49,36.25 M374.41,2.22 L373.99,6 L373.48,9.67 L372.87,13.22 L372.14,16.66 L371.31,19.99 L370.34,23.2 L369.25,26.3 L368.02,29.29 L366.64,32.16 L365.11,34.92 L364.29,36.25 M384.21,2.22 L383.79,6 L383.28,9.67 L382.67,13.22 L381.94,16.66 L381.11,19.99 L380.14,23.2 L379.05,26.3 L377.82,29.29 L376.44,32.16 L374.91,34.92 L374.09,36.25 M394.01,2.22 L393.59,6 L393.08,9.67 L392.47,13.22 L391.74,16.66 L390.91,19.99 L389.94,23.2 L388.85,26.3 L387.62,29.29 L386.24,32.16 L384.71,34.92 L383.89,36.25 M403.81,2.22 L403.39,6 L402.88,9.67 L402.27,13.22 L401.54,16.66 L400.71,19.99 L399.74,23.2 L398.65,26.3 L397.42,29.29 L396.04,32.16 L394.51,34.92 L393.69,36.25 M413.61,2.22 L413.19,6 L412.68,9.67 L412.07,13.22 L411.34,16.66 L410.51,19.99 L409.54,23.2 L408.45,26.3 L407.22,29.29 L405.84,32.16 L404.31,34.92 L403.49,36.25 M423.41,2.22 L422.99,6 L422.48,9.67 L421.87,13.22 L421.14,16.66 L420.31,19.99 L419.34,23.2 L418.25,26.3 L417.02,29.29 L415.64,32.16 L414.11,34.92 L413.29,36.25 M433.21,2.22 L432.79,6 L432.28,9.67 L431.67,13.22 L430.94,16.66 L430.11,19.99 L429.14,23.2 L428.05,26.3 L426.82,29.29 L425.44,32.16 L423.91,34.92 L423.09,36.25" fill="none" stroke="#6a635b" stroke-width="1.1"/>
<path d="M-1.78,1.06 L-2.13,4.5 L-2.55,7.85 L-3.05,11.1 L-3.64,14.26 L-4.31,17.34 L-5.08,20.32 L-5.96,23.2 L-6.93,26 L-8.02,28.7 L-9.23,31.31 L-10.56,33.83 L-12.01,36.25 M8.02,1.06 L7.67,4.5 L7.25,7.85 L6.75,11.1 L6.16,14.26 L5.49,17.34 L4.72,20.32 L3.84,23.2 L2.87,26 L1.78,28.7 L0.57,31.31 L-0.76,33.83 L-2.21,36.25 M17.82,1.06 L17.47,4.5 L17.05,7.85 L16.55,11.1 L15.96,14.26 L15.29,17.34 L14.52,20.32 L13.64,23.2 L12.67,26 L11.58,28.7 L10.37,31.31 L9.04,33.83 L7.59,36.25 M27.62,1.06 L27.27,4.5 L26.85,7.85 L26.35,11.1 L25.76,14.26 L25.09,17.34 L24.32,20.32 L23.44,23.2 L22.47,26 L21.38,28.7 L20.17,31.31 L18.84,33.83 L17.39,36.25 M37.42,1.06 L37.07,4.5 L36.65,7.85 L36.15,11.1 L35.56,14.26 L34.89,17.34 L34.12,20.32 L33.24,23.2 L32.27,26 L31.18,28.7 L29.97,31.31 L28.64,33.83 L27.19,36.25 M47.22,1.06 L46.87,4.5 L46.45,7.85 L45.95,11.1 L45.36,14.26 L44.69,17.34 L43.92,20.32 L43.04,23.2 L42.07,26 L40.98,28.7 L39.77,31.31 L38.44,33.83 L36.99,36.25 M57.02,1.06 L56.67,4.5 L56.25,7.85 L55.75,11.1 L55.16,14.26 L54.49,17.34 L53.72,20.32 L52.84,23.2 L51.87,26 L50.78,28.7 L49.57,31.31 L48.24,33.83 L46.79,36.25 M66.82,1.06 L66.47,4.5 L66.05,7.85 L65.55,11.1 L64.96,14.26 L64.29,17.34 L63.52,20.32 L62.64,23.2 L61.67,26 L60.58,28.7 L59.37,31.31 L58.04,33.83 L56.59,36.25 M76.62,1.06 L76.27,4.5 L75.85,7.85 L75.35,11.1 L74.76,14.26 L74.09,17.34 L73.32,20.32 L72.44,23.2 L71.47,26 L70.38,28.7 L69.17,31.31 L67.84,33.83 L66.39,36.25 M86.42,1.06 L86.07,4.5 L85.65,7.85 L85.15,11.1 L84.56,14.26 L83.89,17.34 L83.12,20.32 L82.24,23.2 L81.27,26 L80.18,28.7 L78.97,31.31 L77.64,33.83 L76.19,36.25 M96.22,1.06 L95.87,4.5 L95.45,7.85 L94.95,11.1 L94.36,14.26 L93.69,17.34 L92.92,20.32 L92.04,23.2 L91.07,26 L89.98,28.7 L88.77,31.31 L87.44,33.83 L85.99,36.25 M106.02,1.06 L105.67,4.5 L105.25,7.85 L104.75,11.1 L104.16,14.26 L103.49,17.34 L102.72,20.32 L101.84,23.2 L100.87,26 L99.78,28.7 L98.57,31.31 L97.24,33.83 L95.79,36.25 M115.82,1.06 L115.47,4.5 L115.05,7.85 L114.55,11.1 L113.96,14.26 L113.29,17.34 L112.52,20.32 L111.64,23.2 L110.67,26 L109.58,28.7 L108.37,31.31 L107.04,33.83 L105.59,36.25 M125.62,1.06 L125.27,4.5 L124.85,7.85 L124.35,11.1 L123.76,14.26 L123.09,17.34 L122.32,20.32 L121.44,23.2 L120.47,26 L119.38,28.7 L118.17,31.31 L116.84,33.83 L115.39,36.25 M135.42,1.06 L135.07,4.5 L134.65,7.85 L134.15,11.1 L133.56,14.26 L132.89,17.34 L132.12,20.32 L131.24,23.2 L130.27,26 L129.18,28.7 L127.97,31.31 L126.64,33.83 L125.19,36.25 M145.22,1.06 L144.87,4.5 L144.45,7.85 L143.95,11.1 L143.36,14.26 L142.69,17.34 L141.92,20.32 L141.04,23.2 L140.07,26 L138.98,28.7 L137.77,31.31 L136.44,33.83 L134.99,36.25 M155.02,1.06 L154.67,4.5 L154.25,7.85 L153.75,11.1 L153.16,14.26 L152.49,17.34 L151.72,20.32 L150.84,23.2 L149.87,26 L148.78,28.7 L147.57,31.31 L146.24,33.83 L144.79,36.25 M164.82,1.06 L164.47,4.5 L164.05,7.85 L163.55,11.1 L162.96,14.26 L162.29,17.34 L161.52,20.32 L160.64,23.2 L159.67,26 L158.58,28.7 L157.37,31.31 L156.04,33.83 L154.59,36.25 M174.62,1.06 L174.27,4.5 L173.85,7.85 L173.35,11.1 L172.76,14.26 L172.09,17.34 L171.32,20.32 L170.44,23.2 L169.47,26 L168.38,28.7 L167.17,31.31 L165.84,33.83 L164.39,36.25 M184.42,1.06 L184.07,4.5 L183.65,7.85 L183.15,11.1 L182.56,14.26 L181.89,17.34 L181.12,20.32 L180.24,23.2 L179.27,26 L178.18,28.7 L176.97,31.31 L175.64,33.83 L174.19,36.25 M194.22,1.06 L193.87,4.5 L193.45,7.85 L192.95,11.1 L192.36,14.26 L191.69,17.34 L190.92,20.32 L190.04,23.2 L189.07,26 L187.98,28.7 L186.77,31.31 L185.44,33.83 L183.99,36.25 M204.02,1.06 L203.67,4.5 L203.25,7.85 L202.75,11.1 L202.16,14.26 L201.49,17.34 L200.72,20.32 L199.84,23.2 L198.87,26 L197.78,28.7 L196.57,31.31 L195.24,33.83 L193.79,36.25 M213.82,1.06 L213.47,4.5 L213.05,7.85 L212.55,11.1 L211.96,14.26 L211.29,17.34 L210.52,20.32 L209.64,23.2 L208.67,26 L207.58,28.7 L206.37,31.31 L205.04,33.83 L203.59,36.25 M223.62,1.06 L223.27,4.5 L222.85,7.85 L222.35,11.1 L221.76,14.26 L221.09,17.34 L220.32,20.32 L219.44,23.2 L218.47,26 L217.38,28.7 L216.17,31.31 L214.84,33.83 L213.39,36.25 M233.42,1.06 L233.07,4.5 L232.65,7.85 L232.15,11.1 L231.56,14.26 L230.89,17.34 L230.12,20.32 L229.24,23.2 L228.27,26 L227.18,28.7 L225.97,31.31 L224.64,33.83 L223.19,36.25 M243.22,1.06 L242.87,4.5 L242.45,7.85 L241.95,11.1 L241.36,14.26 L240.69,17.34 L239.92,20.32 L239.04,23.2 L238.07,26 L236.98,28.7 L235.77,31.31 L234.44,33.83 L232.99,36.25 M253.02,1.06 L252.67,4.5 L252.25,7.85 L251.75,11.1 L251.16,14.26 L250.49,17.34 L249.72,20.32 L248.84,23.2 L247.87,26 L246.78,28.7 L245.57,31.31 L244.24,33.83 L242.79,36.25 M262.82,1.06 L262.47,4.5 L262.05,7.85 L261.55,11.1 L260.96,14.26 L260.29,17.34 L259.52,20.32 L258.64,23.2 L257.67,26 L256.58,28.7 L255.37,31.31 L254.04,33.83 L252.59,36.25 M272.62,1.06 L272.27,4.5 L271.85,7.85 L271.35,11.1 L270.76,14.26 L270.09,17.34 L269.32,20.32 L268.44,23.2 L267.47,26 L266.38,28.7 L265.17,31.31 L263.84,33.83 L262.39,36.25 M282.42,1.06 L282.07,4.5 L281.65,7.85 L281.15,11.1 L280.56,14.26 L279.89,17.34 L279.12,20.32 L278.24,23.2 L277.27,26 L276.18,28.7 L274.97,31.31 L273.64,33.83 L272.19,36.25 M292.22,1.06 L291.87,4.5 L291.45,7.85 L290.95,11.1 L290.36,14.26 L289.69,17.34 L288.92,20.32 L288.04,23.2 L287.07,26 L285.98,28.7 L284.77,31.31 L283.44,33.83 L281.99,36.25 M302.02,1.06 L301.67,4.5 L301.25,7.85 L300.75,11.1 L300.16,14.26 L299.49,17.34 L298.72,20.32 L297.84,23.2 L296.87,26 L295.78,28.7 L294.57,31.31 L293.24,33.83 L291.79,36.25 M311.82,1.06 L311.47,4.5 L311.05,7.85 L310.55,11.1 L309.96,14.26 L309.29,17.34 L308.52,20.32 L307.64,23.2 L306.67,26 L305.58,28.7 L304.37,31.31 L303.04,33.83 L301.59,36.25 M321.62,1.06 L321.27,4.5 L320.85,7.85 L320.35,11.1 L319.76,14.26 L319.09,17.34 L318.32,20.32 L317.44,23.2 L316.47,26 L315.38,28.7 L314.17,31.31 L312.84,33.83 L311.39,36.25 M331.42,1.06 L331.07,4.5 L330.65,7.85 L330.15,11.1 L329.56,14.26 L328.89,17.34 L328.12,20.32 L327.24,23.2 L326.27,26 L325.18,28.7 L323.97,31.31 L322.64,33.83 L321.19,36.25 M341.22,1.06 L340.87,4.5 L340.45,7.85 L339.95,11.1 L339.36,14.26 L338.69,17.34 L337.92,20.32 L337.04,23.2 L336.07,26 L334.98,28.7 L333.77,31.31 L332.44,33.83 L330.99,36.25 M351.02,1.06 L350.67,4.5 L350.25,7.85 L349.75,11.1 L349.16,14.26 L348.49,17.34 L347.72,20.32 L346.84,23.2 L345.87,26 L344.78,28.7 L343.57,31.31 L342.24,33.83 L340.79,36.25 M360.82,1.06 L360.47,4.5 L360.05,7.85 L359.55,11.1 L358.96,14.26 L358.29,17.34 L357.52,20.32 L356.64,23.2 L355.67,26 L354.58,28.7 L353.37,31.31 L352.04,33.83 L350.59,36.25 M370.62,1.06 L370.27,4.5 L369.85,7.85 L369.35,11.1 L368.76,14.26 L368.09,17.34 L367.32,20.32 L366.44,23.2 L365.47,26 L364.38,28.7 L363.17,31.31 L361.84,33.83 L360.39,36.25 M380.42,1.06 L380.07,4.5 L379.65,7.85 L379.15,11.1 L378.56,14.26 L377.89,17.34 L377.12,20.32 L376.24,23.2 L375.27,26 L374.18,28.7 L372.97,31.31 L371.64,33.83 L370.19,36.25 M390.22,1.06 L389.87,4.5 L389.45,7.85 L388.95,11.1 L388.36,14.26 L387.69,17.34 L386.92,20.32 L386.04,23.2 L385.07,26 L383.98,28.7 L382.77,31.31 L381.44,33.83 L379.99,36.25 M400.02,1.06 L399.67,4.5 L399.25,7.85 L398.75,11.1 L398.16,14.26 L397.49,17.34 L396.72,20.32 L395.84,23.2 L394.87,26 L393.78,28.7 L392.57,31.31 L391.24,33.83 L389.79,36.25 M409.82,1.06 L409.47,4.5 L409.05,7.85 L408.55,11.1 L407.96,14.26 L407.29,17.34 L406.52,20.32 L405.64,23.2 L404.67,26 L403.58,28.7 L402.37,31.31 L401.04,33.83 L399.59,36.25 M419.62,1.06 L419.27,4.5 L418.85,7.85 L418.35,11.1 L417.76,14.26 L417.09,17.34 L416.32,20.32 L415.44,23.2 L414.47,26 L413.38,28.7 L412.17,31.31 L410.84,33.83 L409.39,36.25 M429.42,1.06 L429.07,4.5 L428.65,7.85 L428.15,11.1 L427.56,14.26 L426.89,17.34 L426.12,20.32 L425.24,23.2 L424.27,26 L423.18,28.7 L421.97,31.31 L420.64,33.83 L419.19,36.25" fill="none" stroke="url(#thLite)" stroke-width="1.5"/>
<path d="M-4,35.7 A3.3,2.8 0 0 0 2.6,35.7 M5.8,35.7 A3.3,2.8 0 0 0 12.4,35.7 M15.6,35.7 A3.3,2.8 0 0 0 22.2,35.7 M25.4,35.7 A3.3,2.8 0 0 0 32,35.7 M35.2,35.7 A3.3,2.8 0 0 0 41.8,35.7 M45,35.7 A3.3,2.8 0 0 0 51.6,35.7 M54.8,35.7 A3.3,2.8 0 0 0 61.4,35.7 M64.6,35.7 A3.3,2.8 0 0 0 71.2,35.7 M74.4,35.7 A3.3,2.8 0 0 0 81,35.7 M84.2,35.7 A3.3,2.8 0 0 0 90.8,35.7 M94,35.7 A3.3,2.8 0 0 0 100.6,35.7 M103.8,35.7 A3.3,2.8 0 0 0 110.4,35.7 M113.6,35.7 A3.3,2.8 0 0 0 120.2,35.7 M123.4,35.7 A3.3,2.8 0 0 0 130,35.7 M133.2,35.7 A3.3,2.8 0 0 0 139.8,35.7 M143,35.7 A3.3,2.8 0 0 0 149.6,35.7 M152.8,35.7 A3.3,2.8 0 0 0 159.4,35.7 M162.6,35.7 A3.3,2.8 0 0 0 169.2,35.7 M172.4,35.7 A3.3,2.8 0 0 0 179,35.7 M182.2,35.7 A3.3,2.8 0 0 0 188.8,35.7 M192,35.7 A3.3,2.8 0 0 0 198.6,35.7 M201.8,35.7 A3.3,2.8 0 0 0 208.4,35.7 M211.6,35.7 A3.3,2.8 0 0 0 218.2,35.7 M221.4,35.7 A3.3,2.8 0 0 0 228,35.7 M231.2,35.7 A3.3,2.8 0 0 0 237.8,35.7 M241,35.7 A3.3,2.8 0 0 0 247.6,35.7 M250.8,35.7 A3.3,2.8 0 0 0 257.4,35.7 M260.6,35.7 A3.3,2.8 0 0 0 267.2,35.7 M270.4,35.7 A3.3,2.8 0 0 0 277,35.7 M280.2,35.7 A3.3,2.8 0 0 0 286.8,35.7 M290,35.7 A3.3,2.8 0 0 0 296.6,35.7 M299.8,35.7 A3.3,2.8 0 0 0 306.4,35.7 M309.6,35.7 A3.3,2.8 0 0 0 316.2,35.7 M319.4,35.7 A3.3,2.8 0 0 0 326,35.7 M329.2,35.7 A3.3,2.8 0 0 0 335.8,35.7 M339,35.7 A3.3,2.8 0 0 0 345.6,35.7 M348.8,35.7 A3.3,2.8 0 0 0 355.4,35.7 M358.6,35.7 A3.3,2.8 0 0 0 365.2,35.7 M368.4,35.7 A3.3,2.8 0 0 0 375,35.7 M378.2,35.7 A3.3,2.8 0 0 0 384.8,35.7 M388,35.7 A3.3,2.8 0 0 0 394.6,35.7 M397.8,35.7 A3.3,2.8 0 0 0 404.4,35.7 M407.6,35.7 A3.3,2.8 0 0 0 414.2,35.7 M417.4,35.7 A3.3,2.8 0 0 0 424,35.7" fill="#776f66" stroke="#423d37" stroke-width="1.1"/>
<polygon points="0,-35.8 432,-35.8 436,-18.65 437,0 436,18.65 432,39.3 -4.5,39.3 -4.5,37.3 -2.95,36.58 -1.45,34.46 -0.05,31.01 1.22,26.38 2.31,20.72 3.19,14.27 3.84,7.28 4.25,-0 4.41,-7.28 4.32,-14.27 4,-20.72 3.47,-26.38 2.77,-31.01 1.92,-34.46 0.99,-36.58 0,-37.3" fill="url(#thShade)"/>
</g>
<g fill="#0a0a0a"><ellipse cx="1.3" cy="-35.3" rx="2.5" ry="3" transform="rotate(20 1.3 -35.3)"/><ellipse cx="11.1" cy="-35.3" rx="2.5" ry="3" transform="rotate(20 11.1 -35.3)"/><ellipse cx="20.9" cy="-35.3" rx="2.5" ry="3" transform="rotate(20 20.9 -35.3)"/><ellipse cx="30.7" cy="-35.3" rx="2.5" ry="3" transform="rotate(20 30.7 -35.3)"/><ellipse cx="40.5" cy="-35.3" rx="2.5" ry="3" transform="rotate(20 40.5 -35.3)"/><ellipse cx="50.3" cy="-35.3" rx="2.5" ry="3" transform="rotate(20 50.3 -35.3)"/><ellipse cx="60.1" cy="-35.3" rx="2.5" ry="3" transform="rotate(20 60.1 -35.3)"/><ellipse cx="69.9" cy="-35.3" rx="2.5" ry="3" transform="rotate(20 69.9 -35.3)"/><ellipse cx="79.7" cy="-35.3" rx="2.5" ry="3" transform="rotate(20 79.7 -35.3)"/><ellipse cx="89.5" cy="-35.3" rx="2.5" ry="3" transform="rotate(20 89.5 -35.3)"/><ellipse cx="99.3" cy="-35.3" rx="2.5" ry="3" transform="rotate(20 99.3 -35.3)"/><ellipse cx="109.1" cy="-35.3" rx="2.5" ry="3" transform="rotate(20 109.1 -35.3)"/><ellipse cx="118.9" cy="-35.3" rx="2.5" ry="3" transform="rotate(20 118.9 -35.3)"/><ellipse cx="128.7" cy="-35.3" rx="2.5" ry="3" transform="rotate(20 128.7 -35.3)"/><ellipse cx="138.5" cy="-35.3" rx="2.5" ry="3" transform="rotate(20 138.5 -35.3)"/><ellipse cx="148.3" cy="-35.3" rx="2.5" ry="3" transform="rotate(20 148.3 -35.3)"/><ellipse cx="158.1" cy="-35.3" rx="2.5" ry="3" transform="rotate(20 158.1 -35.3)"/><ellipse cx="167.9" cy="-35.3" rx="2.5" ry="3" transform="rotate(20 167.9 -35.3)"/><ellipse cx="177.7" cy="-35.3" rx="2.5" ry="3" transform="rotate(20 177.7 -35.3)"/><ellipse cx="187.5" cy="-35.3" rx="2.5" ry="3" transform="rotate(20 187.5 -35.3)"/><ellipse cx="197.3" cy="-35.3" rx="2.5" ry="3" transform="rotate(20 197.3 -35.3)"/><ellipse cx="207.1" cy="-35.3" rx="2.5" ry="3" transform="rotate(20 207.1 -35.3)"/><ellipse cx="216.9" cy="-35.3" rx="2.5" ry="3" transform="rotate(20 216.9 -35.3)"/><ellipse cx="226.7" cy="-35.3" rx="2.5" ry="3" transform="rotate(20 226.7 -35.3)"/><ellipse cx="236.5" cy="-35.3" rx="2.5" ry="3" transform="rotate(20 236.5 -35.3)"/><ellipse cx="246.3" cy="-35.3" rx="2.5" ry="3" transform="rotate(20 246.3 -35.3)"/><ellipse cx="256.1" cy="-35.3" rx="2.5" ry="3" transform="rotate(20 256.1 -35.3)"/><ellipse cx="265.9" cy="-35.3" rx="2.5" ry="3" transform="rotate(20 265.9 -35.3)"/><ellipse cx="275.7" cy="-35.3" rx="2.5" ry="3" transform="rotate(20 275.7 -35.3)"/><ellipse cx="285.5" cy="-35.3" rx="2.5" ry="3" transform="rotate(20 285.5 -35.3)"/><ellipse cx="295.3" cy="-35.3" rx="2.5" ry="3" transform="rotate(20 295.3 -35.3)"/><ellipse cx="305.1" cy="-35.3" rx="2.5" ry="3" transform="rotate(20 305.1 -35.3)"/><ellipse cx="314.9" cy="-35.3" rx="2.5" ry="3" transform="rotate(20 314.9 -35.3)"/><ellipse cx="324.7" cy="-35.3" rx="2.5" ry="3" transform="rotate(20 324.7 -35.3)"/><ellipse cx="334.5" cy="-35.3" rx="2.5" ry="3" transform="rotate(20 334.5 -35.3)"/><ellipse cx="344.3" cy="-35.3" rx="2.5" ry="3" transform="rotate(20 344.3 -35.3)"/><ellipse cx="354.1" cy="-35.3" rx="2.5" ry="3" transform="rotate(20 354.1 -35.3)"/><ellipse cx="363.9" cy="-35.3" rx="2.5" ry="3" transform="rotate(20 363.9 -35.3)"/><ellipse cx="373.7" cy="-35.3" rx="2.5" ry="3" transform="rotate(20 373.7 -35.3)"/><ellipse cx="383.5" cy="-35.3" rx="2.5" ry="3" transform="rotate(20 383.5 -35.3)"/><ellipse cx="393.3" cy="-35.3" rx="2.5" ry="3" transform="rotate(20 393.3 -35.3)"/><ellipse cx="403.1" cy="-35.3" rx="2.5" ry="3" transform="rotate(20 403.1 -35.3)"/><ellipse cx="412.9" cy="-35.3" rx="2.5" ry="3" transform="rotate(20 412.9 -35.3)"/><ellipse cx="422.7" cy="-35.3" rx="2.5" ry="3" transform="rotate(20 422.7 -35.3)"/></g>
<g fill="#333"><circle cx="5" cy="-31.9" r="0.8"/><circle cx="14.8" cy="-31.9" r="0.8"/><circle cx="24.6" cy="-31.9" r="0.8"/><circle cx="34.4" cy="-31.9" r="0.8"/><circle cx="44.2" cy="-31.9" r="0.8"/><circle cx="54" cy="-31.9" r="0.8"/><circle cx="63.8" cy="-31.9" r="0.8"/><circle cx="73.6" cy="-31.9" r="0.8"/><circle cx="83.4" cy="-31.9" r="0.8"/><circle cx="93.2" cy="-31.9" r="0.8"/><circle cx="103" cy="-31.9" r="0.8"/><circle cx="112.8" cy="-31.9" r="0.8"/><circle cx="122.6" cy="-31.9" r="0.8"/><circle cx="132.4" cy="-31.9" r="0.8"/><circle cx="142.2" cy="-31.9" r="0.8"/><circle cx="152" cy="-31.9" r="0.8"/><circle cx="161.8" cy="-31.9" r="0.8"/><circle cx="171.6" cy="-31.9" r="0.8"/><circle cx="181.4" cy="-31.9" r="0.8"/><circle cx="191.2" cy="-31.9" r="0.8"/><circle cx="201" cy="-31.9" r="0.8"/><circle cx="210.8" cy="-31.9" r="0.8"/><circle cx="220.6" cy="-31.9" r="0.8"/><circle cx="230.4" cy="-31.9" r="0.8"/><circle cx="240.2" cy="-31.9" r="0.8"/><circle cx="250" cy="-31.9" r="0.8"/><circle cx="259.8" cy="-31.9" r="0.8"/><circle cx="269.6" cy="-31.9" r="0.8"/><circle cx="279.4" cy="-31.9" r="0.8"/><circle cx="289.2" cy="-31.9" r="0.8"/><circle cx="299" cy="-31.9" r="0.8"/><circle cx="308.8" cy="-31.9" r="0.8"/><circle cx="318.6" cy="-31.9" r="0.8"/><circle cx="328.4" cy="-31.9" r="0.8"/><circle cx="338.2" cy="-31.9" r="0.8"/><circle cx="348" cy="-31.9" r="0.8"/><circle cx="357.8" cy="-31.9" r="0.8"/><circle cx="367.6" cy="-31.9" r="0.8"/><circle cx="377.4" cy="-31.9" r="0.8"/><circle cx="387.2" cy="-31.9" r="0.8"/><circle cx="397" cy="-31.9" r="0.8"/><circle cx="406.8" cy="-31.9" r="0.8"/><circle cx="416.6" cy="-31.9" r="0.8"/><circle cx="426.4" cy="-31.9" r="0.8"/></g>
</g>
<polygon points="354,303 361,309.6 377.5,378.7 370.5,381.5" fill="url(#boreG)"/>
<polygon points="333.5,274.6 342,285.5 339.5,287 331.8,277.3" fill="#d4d4d2"/>
<polygon points="502.5,261.5 509.3,267.5 526.7,338.7 519.5,341.5" fill="url(#boreG)"/>
<polygon points="482.4,233.5 491,244.5 488.5,246 480.7,236.2" fill="#d4d4d2"/>
<polygon points="333.5,274.6 352.7,269 367.3,279.1 376.3,291.5 381,298 383.5,304 361,309.6" fill="#161616"/>
<polygon points="361,309.6 383.5,303.8 390,313 394.4,325.4 398,340 399.5,352 399.2,371.5 377.5,378.7" fill="url(#frontG)"/>
<polygon points="377.5,378.7 399.2,371.5 399.7,385 397.5,398 393.5,410.5 384,415.5 371,417.8 366,414 372,395" fill="url(#botG)"/>
<polygon points="482.4,233.5 502.7,227.3 515.1,238 524.1,249.3 529.1,258.3 530.3,263.8 509.3,267.5" fill="#161616"/>
<polygon points="509.3,267.5 530,263.5 535,270 541,282 545,295 547,307.4 547.8,320 547.8,332.7 526.7,338.7" fill="url(#frontG)"/>
<polygon points="526.7,338.7 547.8,332.7 548.8,350 548,362 545,369.5 533,374 523,376.2 517,373 522,358" fill="url(#botG)"/>
<g transform="translate(220,381.8) rotate(-15.54)"><path d="M431,-33.5 L474.5,-33.5 A7.2,33.5 0 0 1 474.5,33.5 L431,33.5 A7.2,33.5 0 0 0 431,-33.5 Z" fill="url(#capG)"/></g>
<polyline points="194,223.6 302.4,223.6 357.2,288.2" fill="none" stroke="#000" stroke-width="1.6"/>
<polyline points="73,273.3 168.8,273.3 206.6,359.6" fill="none" stroke="#000" stroke-width="1.6"/>
<polyline points="45.5,344.3 142.7,344.3 150,372" fill="none" stroke="#000" stroke-width="1.6"/>
<polygon points="153.6,384.7 140.85,364.32 154.37,360.67" fill="#000"/>
<polyline points="163,418.7 171.4,451.6" fill="none" stroke="#000" stroke-width="1.6"/>
<polygon points="163,418.7 175.47,439.25 161.91,442.72" fill="#000"/>
<polyline points="655.75,219.7 725.8,200.8" fill="none" stroke="#000" stroke-width="1.6"/>
<polyline points="676,297.5 747.6,276.9" fill="none" stroke="#000" stroke-width="1.6"/>
<polyline points="708.7,202.3 730.75,281.8" fill="none" stroke="#000" stroke-width="1.6"/>
<polygon points="708.7,202.3 722.13,224.52 708.64,228.26" fill="#000"/>
<polygon points="730.75,281.8 717.32,259.58 730.81,255.84" fill="#000"/>
<polyline points="641.1,300.1 662.25,384.6" fill="none" stroke="#000" stroke-width="1.6"/>
<polyline points="683.4,288.45 716.75,418.4" fill="none" stroke="#000" stroke-width="1.6"/>
<polyline points="628.45,376.1 775.5,335.2" fill="none" stroke="#000" stroke-width="1.6"/>
<polygon points="660.5,366.9 641.15,379.22 637.56,366.72" fill="#000"/>
<polygon points="701.3,355 720.88,343.05 724.23,355.61" fill="#000"/>
<polyline points="214.5,409.75 251.25,547.3" fill="none" stroke="#000" stroke-width="1.6"/>
<polyline points="246.7,530.5 431.5,479.75" fill="none" stroke="#000" stroke-width="1.6"/>
<polyline points="528,452.25 713,402.1" fill="none" stroke="#000" stroke-width="1.6"/>
<polygon points="246.7,530.5 267.16,518.14 270.6,530.68" fill="#000"/>
<polygon points="713,402.1 692.5,414.39 689.1,401.84" fill="#000"/>
<path d="M229.5,177.9 C226,175.6 220,175.8 215.7,178.7 C212,181.5 210.3,186 210,190 C209.8,192.5 209.6,194 208,196 L199.3,205.3 C197,207.8 196.8,211.5 198.5,214.5 C200.5,217.5 205,217.8 207.8,215.8 L217.8,207.7 C219.5,206.4 221,206 223,206 C227,205.8 231,204 234,201 C237.8,197 239.4,192 238.9,187 L226.3,198 L218.4,188.9 Z" fill="none" stroke="#000" stroke-width="1.8" stroke-linejoin="round"/>
<circle cx="204.2" cy="210.6" r="1.4" fill="#000"/>
<polygon points="260.3,212.1 256.5,212.1 256.5,187.8 248.1,192.9 248.1,189.2 257.2,181.7 260.3,181.7" fill="#000"/>
<text x="266.96" y="212.1" font-size="44">3</text>
<text x="71.9" y="263.6" font-size="44" letter-spacing="0.7">LED</text>
<text x="92.1" y="335.3" font-size="44">4</text>
<text x="646.2" y="191.8" font-size="44.5">M8x</text>
<polygon points="748.1,192.1 744.3,192.1 744.3,167.8 735.9,172.9 735.9,169.2 745,161.7 748.1,161.7" fill="#000"/>
<g transform="translate(478.1,460.1) rotate(-15.3)"><text x="0" y="15.4" font-size="43.5" text-anchor="middle">50</text></g>
<g transform="translate(734.1,314.3) rotate(-14.7)"><text x="0" y="15.5" font-size="44" text-anchor="middle">4,5</text></g>
<circle cx="70.45" cy="320.1" r="13.9" fill="none" stroke="#000" stroke-width="1.5"/>
<line x1="61.7" y1="340" x2="78.6" y2="300.4" stroke="#000" stroke-width="1.5"/>
</svg>
</body></html>
